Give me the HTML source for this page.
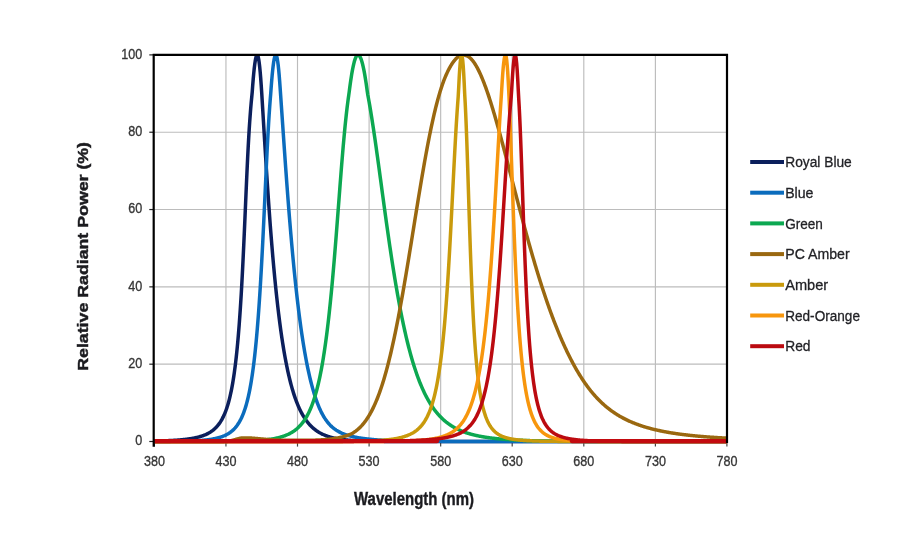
<!DOCTYPE html>
<html><head><meta charset="utf-8"><style>
html,body{margin:0;padding:0;background:#fff;}
svg{display:block;will-change:transform;}
.tk{font-family:"Liberation Sans",sans-serif;font-size:15.3px;fill:#363636;stroke:#363636;stroke-width:0.35;}
.yt{font-family:"Liberation Sans",sans-serif;font-size:15px;font-weight:bold;fill:#1b1b1f;stroke:#1b1b1f;stroke-width:0.45;}
.xt{font-family:"Liberation Sans",sans-serif;font-size:18px;font-weight:bold;fill:#1b1b1f;stroke:#1b1b1f;stroke-width:0.4;}
.lg{font-family:"Liberation Sans",sans-serif;font-size:15.5px;fill:#222226;stroke:#222226;stroke-width:0.3;}
</style></head><body>
<svg width="920" height="551" viewBox="0 0 920 551">
<defs><clipPath id="pc"><rect x="153.7" y="55.699999999999974" width="573.3" height="392.6"/></clipPath></defs>
<rect x="0" y="0" width="920" height="551" fill="#fff"/>
<line x1="225.95" y1="54.89999999999998" x2="225.95" y2="441.5" stroke="#bcbcbc" stroke-width="1.15"/>
<line x1="297.5" y1="54.89999999999998" x2="297.5" y2="441.5" stroke="#bcbcbc" stroke-width="1.15"/>
<line x1="369.1" y1="54.89999999999998" x2="369.1" y2="441.5" stroke="#bcbcbc" stroke-width="1.15"/>
<line x1="440.66" y1="54.89999999999998" x2="440.66" y2="441.5" stroke="#bcbcbc" stroke-width="1.15"/>
<line x1="512.2" y1="54.89999999999998" x2="512.2" y2="441.5" stroke="#bcbcbc" stroke-width="1.15"/>
<line x1="583.8" y1="54.89999999999998" x2="583.8" y2="441.5" stroke="#bcbcbc" stroke-width="1.15"/>
<line x1="655.4" y1="54.89999999999998" x2="655.4" y2="441.5" stroke="#bcbcbc" stroke-width="1.15"/>
<line x1="153.7" y1="364.18" x2="727.0" y2="364.18" stroke="#bcbcbc" stroke-width="1.15"/>
<line x1="153.7" y1="286.86" x2="727.0" y2="286.86" stroke="#bcbcbc" stroke-width="1.15"/>
<line x1="153.7" y1="209.54" x2="727.0" y2="209.54" stroke="#bcbcbc" stroke-width="1.15"/>
<line x1="153.7" y1="132.22" x2="727.0" y2="132.22" stroke="#bcbcbc" stroke-width="1.15"/>
<line x1="149.3" y1="441.50" x2="153.7" y2="441.50" stroke="#222" stroke-width="1.2"/>
<line x1="149.3" y1="364.18" x2="153.7" y2="364.18" stroke="#222" stroke-width="1.2"/>
<line x1="149.3" y1="286.86" x2="153.7" y2="286.86" stroke="#222" stroke-width="1.2"/>
<line x1="149.3" y1="209.54" x2="153.7" y2="209.54" stroke="#222" stroke-width="1.2"/>
<line x1="149.3" y1="132.22" x2="153.7" y2="132.22" stroke="#222" stroke-width="1.2"/>
<line x1="149.3" y1="54.90" x2="153.7" y2="54.90" stroke="#222" stroke-width="1.2"/>
<line x1="154.4" y1="441.5" x2="154.4" y2="446.6" stroke="#444" stroke-width="1.2"/>
<line x1="225.95" y1="441.5" x2="225.95" y2="446.6" stroke="#444" stroke-width="1.2"/>
<line x1="297.5" y1="441.5" x2="297.5" y2="446.6" stroke="#444" stroke-width="1.2"/>
<line x1="369.1" y1="441.5" x2="369.1" y2="446.6" stroke="#444" stroke-width="1.2"/>
<line x1="440.66" y1="441.5" x2="440.66" y2="446.6" stroke="#444" stroke-width="1.2"/>
<line x1="512.2" y1="441.5" x2="512.2" y2="446.6" stroke="#444" stroke-width="1.2"/>
<line x1="583.8" y1="441.5" x2="583.8" y2="446.6" stroke="#444" stroke-width="1.2"/>
<line x1="655.4" y1="441.5" x2="655.4" y2="446.6" stroke="#444" stroke-width="1.2"/>
<line x1="726.9" y1="441.5" x2="726.9" y2="446.6" stroke="#444" stroke-width="1.2"/>
<g clip-path="url(#pc)" fill="none" stroke-linejoin="round" stroke-linecap="round">
<path d="M153.7 441.09 L154.2 441.08 L154.7 441.07 L155.2 441.06 L155.7 441.05 L156.2 441.04 L156.7 441.02 L157.2 441.01 L157.7 441.00 L158.2 440.99 L158.7 440.97 L159.2 440.96 L159.7 440.95 L160.2 440.93 L160.7 440.92 L161.2 440.90 L161.7 440.89 L162.2 440.87 L162.7 440.85 L163.2 440.84 L163.7 440.82 L164.2 440.80 L164.7 440.78 L165.2 440.77 L165.7 440.75 L166.2 440.73 L166.7 440.71 L167.2 440.69 L167.7 440.66 L168.2 440.64 L168.7 440.62 L169.2 440.60 L169.7 440.57 L170.2 440.55 L170.7 440.52 L171.2 440.50 L171.7 440.47 L172.2 440.44 L172.7 440.41 L173.2 440.39 L173.7 440.36 L174.2 440.32 L174.7 440.29 L175.2 440.26 L175.7 440.23 L176.2 440.19 L176.7 440.16 L177.2 440.12 L177.7 440.08 L178.2 440.05 L178.7 440.01 L179.2 439.97 L179.7 439.92 L180.2 439.88 L180.7 439.84 L181.2 439.79 L181.7 439.75 L182.2 439.70 L182.7 439.65 L183.2 439.60 L183.7 439.54 L184.2 439.49 L184.7 439.43 L185.2 439.38 L185.7 439.32 L186.2 439.26 L186.7 439.19 L187.2 439.13 L187.7 439.06 L188.2 439.00 L188.7 438.93 L189.2 438.85 L189.7 438.78 L190.2 438.70 L190.7 438.62 L191.2 438.54 L191.7 438.46 L192.2 438.37 L192.7 438.28 L193.2 438.19 L193.7 438.10 L194.2 438.00 L194.7 437.90 L195.2 437.79 L195.7 437.69 L196.2 437.58 L196.7 437.46 L197.2 437.35 L197.7 437.23 L198.2 437.10 L198.7 436.97 L199.2 436.84 L199.7 436.70 L200.2 436.55 L200.7 436.40 L201.2 436.25 L201.7 436.09 L202.2 435.92 L202.7 435.75 L203.2 435.57 L203.7 435.38 L204.2 435.19 L204.7 434.99 L205.2 434.78 L205.7 434.57 L206.2 434.34 L206.7 434.11 L207.2 433.86 L207.7 433.61 L208.2 433.35 L208.7 433.08 L209.2 432.79 L209.7 432.50 L210.2 432.19 L210.7 431.87 L211.2 431.53 L211.7 431.18 L212.2 430.82 L212.7 430.44 L213.2 430.05 L213.7 429.63 L214.2 429.20 L214.7 428.75 L215.2 428.28 L215.7 427.79 L216.2 427.28 L216.7 426.74 L217.2 426.18 L217.7 425.59 L218.2 424.98 L218.7 424.33 L219.2 423.66 L219.7 422.95 L220.2 422.21 L220.7 421.43 L221.2 420.61 L221.7 419.75 L222.2 418.85 L222.7 417.90 L223.2 416.91 L223.7 415.86 L224.2 414.76 L224.7 413.60 L225.2 412.37 L225.7 411.09 L226.2 409.73 L226.7 408.30 L227.2 406.78 L227.7 405.19 L228.2 403.50 L228.7 401.72 L229.2 399.83 L229.7 397.84 L230.2 395.72 L230.7 393.49 L231.2 391.11 L231.7 388.60 L232.2 385.93 L232.7 383.10 L233.2 380.08 L233.7 376.88 L234.2 373.48 L234.7 369.86 L235.2 366.02 L235.7 361.91 L236.2 357.54 L236.7 352.88 L237.2 347.91 L237.7 342.62 L238.2 336.98 L238.7 330.97 L239.2 324.56 L239.7 317.73 L240.2 310.46 L240.7 302.73 L241.2 294.52 L241.7 285.82 L242.2 276.62 L242.7 266.93 L243.2 256.77 L243.7 246.17 L244.2 235.18 L244.7 223.88 L245.2 212.37 L245.7 200.79 L246.2 189.28 L246.7 178.00 L247.2 167.09 L247.7 156.69 L248.2 146.91 L248.7 137.81 L249.2 129.43 L249.7 121.76 L250.2 114.78 L250.7 108.44 L251.2 102.69 L251.7 97.47 L252.2 92.25 L252.7 85.45 L253.2 79.24 L253.7 73.68 L254.2 68.79 L254.7 64.60 L255.2 61.14 L255.7 58.44 L256.2 56.51 L256.7 55.50 L257.2 54.90 L257.7 55.57 L258.2 56.86 L258.7 59.31 L259.2 62.68 L259.7 67.00 L260.2 72.19 L260.7 78.24 L261.2 85.11 L261.7 92.72 L262.2 100.82 L262.7 109.04 L263.2 117.32 L263.7 125.61 L264.2 133.88 L264.7 142.09 L265.2 150.22 L265.7 158.26 L266.2 166.18 L266.7 173.97 L267.2 181.62 L267.7 189.12 L268.2 196.47 L268.7 203.66 L269.2 210.70 L269.7 217.57 L270.2 224.27 L270.7 230.81 L271.2 237.19 L271.7 243.40 L272.2 249.43 L272.7 255.32 L273.2 261.04 L273.7 266.61 L274.2 272.03 L274.7 277.30 L275.2 282.41 L275.7 287.39 L276.2 292.21 L276.7 296.88 L277.2 301.43 L277.7 305.84 L278.2 310.12 L278.7 314.27 L279.2 318.30 L279.7 322.21 L280.2 325.99 L280.7 329.66 L281.2 333.22 L281.7 336.66 L282.2 340.01 L282.7 343.25 L283.2 346.39 L283.7 349.44 L284.2 352.38 L284.7 355.23 L285.2 357.99 L285.7 360.67 L286.2 363.27 L286.7 365.78 L287.2 368.21 L287.7 370.57 L288.2 372.84 L288.7 375.05 L289.2 377.19 L289.7 379.26 L290.2 381.27 L290.7 383.21 L291.2 385.08 L291.7 386.90 L292.2 388.66 L292.7 390.36 L293.2 392.01 L293.7 393.61 L294.2 395.15 L294.7 396.64 L295.2 398.09 L295.7 399.49 L296.2 400.84 L296.7 402.16 L297.2 403.43 L297.7 404.65 L298.2 405.84 L298.7 406.99 L299.2 408.10 L299.7 409.18 L300.2 410.22 L300.7 411.23 L301.2 412.21 L301.7 413.15 L302.2 414.06 L302.7 414.95 L303.2 415.80 L303.7 416.63 L304.2 417.43 L304.7 418.21 L305.2 418.96 L305.7 419.68 L306.2 420.39 L306.7 421.07 L307.2 421.72 L307.7 422.36 L308.2 422.97 L308.7 423.57 L309.2 424.15 L309.7 424.70 L310.2 425.24 L310.7 425.77 L311.2 426.27 L311.7 426.76 L312.2 427.23 L312.7 427.69 L313.2 428.13 L313.7 428.56 L314.2 428.98 L314.7 429.38 L315.2 429.77 L315.7 430.14 L316.2 430.51 L316.7 430.86 L317.2 431.20 L317.7 431.53 L318.2 431.85 L318.7 432.16 L319.2 432.46 L319.7 432.74 L320.2 433.02 L320.7 433.30 L321.2 433.56 L321.7 433.81 L322.2 434.06 L322.7 434.29 L323.2 434.52 L323.7 434.75 L324.2 434.96 L324.7 435.17 L325.2 435.37 L325.7 435.57 L326.2 435.76 L326.7 435.94 L327.2 436.12 L327.7 436.29 L328.2 436.46 L328.7 436.62 L329.2 436.77 L329.7 436.92 L330.2 437.07 L330.7 437.21 L331.2 437.35 L331.7 437.48 L332.2 437.61 L332.7 437.74 L333.2 437.86 L333.7 437.97 L334.2 438.09 L334.7 438.20 L335.2 438.30 L335.7 438.40 L336.2 438.50 L336.7 438.60 L337.2 438.69 L337.7 438.78 L338.2 438.87 L338.7 438.96 L339.2 439.04 L339.7 439.12 L340.2 439.19 L340.7 439.27 L341.2 439.34 L341.7 439.41 L342.2 439.48 L342.7 439.54 L343.2 439.61 L343.7 439.67 L344.2 439.73 L344.7 439.78 L345.2 439.84 L345.7 439.89 L346.2 439.95 L346.7 440.00 L347.2 440.05 L347.7 440.09 L348.2 440.14 L348.7 440.18 L349.2 440.22 L349.7 440.27 L350.2 440.31 L350.7 440.35 L351.2 440.38 L351.7 440.42 L352.2 440.45 L352.7 440.49 L353.2 440.52 L353.7 440.55 L354.2 440.58 L354.7 440.61 L355.2 440.64 L355.7 440.67 L356.2 440.70 L356.7 440.72 L357.2 440.75 L357.7 440.77 L358.2 440.80 L358.7 440.82 L359.2 440.84 L359.7 440.86 L360.2 440.88 L360.7 440.90 L361.2 440.92 L361.7 440.94 L362.2 440.96 L362.7 440.98 L363.2 441.00 L363.7 441.01 L364.2 441.03 L364.7 441.04 L365.2 441.06 L365.7 441.07 L366.2 441.09 L366.7 441.10 L367.2 441.11 L367.7 441.13 L368.2 441.14 L368.7 441.15 L369.2 441.16 L369.7 441.17 L370.2 441.18 L370.7 441.19 L371.2 441.20 L371.7 441.21 L372.2 441.22 L372.7 441.23 L373.2 441.24 L373.7 441.25 L374.2 441.26 L374.7 441.27 L375.2 441.27 L375.7 441.28 L376.2 441.29 L376.7 441.30 L377.2 441.30 L377.7 441.31 L378.2 441.32 L378.7 441.32 L379.2 441.33 L379.7 441.33 L380.2 441.34 L380.7 441.34 L381.2 441.35 L381.7 441.35 L382.2 441.36 L382.7 441.36 L383.2 441.37 L383.7 441.37 L384.2 441.38 L384.7 441.38 L385.2 441.38 L385.7 441.39 L386.2 441.39 L386.7 441.40 L387.2 441.40 L387.7 441.40 L388.2 441.41 L388.7 441.41 L389.2 441.41 L389.7 441.41 L390.2 441.42 L390.7 441.42 L391.2 441.42 L391.7 441.43 L392.2 441.43 L392.7 441.43 L393.2 441.43 L393.7 441.43 L394.2 441.44 L394.7 441.44 L395.2 441.44 L395.7 441.44 L396.2 441.45 L396.7 441.45 L397.2 441.45 L397.7 441.45 L398.2 441.45 L398.7 441.45 L399.2 441.46 L399.7 441.46 L400.2 441.46 L400.7 441.46 L401.2 441.46 L401.7 441.50 L402.2 441.50 L402.7 441.50 L403.2 441.50 L403.7 441.50 L404.2 441.50 L404.7 441.50 L405.2 441.50 L405.7 441.50 L406.2 441.50 L406.7 441.50 L407.2 441.50 L407.7 441.50 L408.2 441.50 L408.7 441.50 L409.2 441.50 L409.7 441.50 L410.2 441.50 L410.7 441.50 L411.2 441.50 L411.7 441.50 L412.2 441.50 L412.7 441.50 L413.2 441.50 L413.7 441.50 L414.2 441.50 L414.7 441.50 L415.2 441.50 L415.7 441.50 L416.2 441.50 L416.7 441.50 L417.2 441.50 L417.7 441.50 L418.2 441.50 L418.7 441.50 L419.2 441.50 L419.7 441.50 L420.2 441.50 L420.7 441.50 L421.2 441.50 L421.7 441.50 L422.2 441.50 L422.7 441.50 L423.2 441.50 L423.7 441.50 L424.2 441.50 L424.7 441.50 L425.2 441.50 L425.7 441.50 L426.2 441.50 L426.7 441.50 L427.2 441.50 L427.7 441.50 L428.2 441.50 L428.7 441.50 L429.2 441.50 L429.7 441.50 L430.2 441.50 L430.7 441.50 L431.2 441.50 L431.7 441.50 L432.2 441.50 L432.7 441.50 L433.2 441.50 L433.7 441.50 L434.2 441.50 L434.7 441.50 L435.2 441.50 L435.7 441.50 L436.2 441.50 L436.7 441.50 L437.2 441.50 L437.7 441.50 L438.2 441.50 L438.7 441.50 L439.2 441.50 L439.7 441.50 L440.2 441.50 L440.7 441.50 L441.2 441.50 L441.7 441.50 L442.2 441.50 L442.7 441.50 L443.2 441.50 L443.7 441.50 L444.2 441.50 L444.7 441.50 L445.2 441.50 L445.7 441.50 L446.2 441.50 L446.7 441.50 L447.2 441.50 L447.7 441.50 L448.2 441.50 L448.7 441.50 L449.2 441.50 L449.7 441.50 L450.2 441.50 L450.7 441.50 L451.2 441.50 L451.7 441.50 L452.2 441.50 L452.7 441.50 L453.2 441.50 L453.7 441.50 L454.2 441.50 L454.7 441.50 L455.2 441.50 L455.7 441.50 L456.2 441.50 L456.7 441.50 L457.2 441.50 L457.7 441.50 L458.2 441.50 L458.7 441.50 L459.2 441.50 L459.7 441.50 L460.2 441.50 L460.7 441.50 L461.2 441.50 L461.7 441.50 L462.2 441.50 L462.7 441.50 L463.2 441.50 L463.7 441.50 L464.2 441.50 L464.7 441.50 L465.2 441.50 L465.7 441.50 L466.2 441.50 L466.7 441.50 L467.2 441.50 L467.7 441.50 L468.2 441.50 L468.7 441.50 L469.2 441.50 L469.7 441.50 L470.2 441.50 L470.7 441.50 L471.2 441.50 L471.7 441.50 L472.2 441.50 L472.7 441.50 L473.2 441.50 L473.7 441.50 L474.2 441.50 L474.7 441.50 L475.2 441.50 L475.7 441.50 L476.2 441.50 L476.7 441.50 L477.2 441.50 L477.7 441.50 L478.2 441.50 L478.7 441.50 L479.2 441.50 L479.7 441.50 L480.2 441.50 L480.7 441.50 L481.2 441.50 L481.7 441.50 L482.2 441.50 L482.7 441.50 L483.2 441.50 L483.7 441.50 L484.2 441.50 L484.7 441.50 L485.2 441.50 L485.7 441.50 L486.2 441.50 L486.7 441.50 L487.2 441.50 L487.7 441.50 L488.2 441.50 L488.7 441.50 L489.2 441.50 L489.7 441.50 L490.2 441.50 L490.7 441.50 L491.2 441.50 L491.7 441.50 L492.2 441.50 L492.7 441.50 L493.2 441.50 L493.7 441.50 L494.2 441.50 L494.7 441.50 L495.2 441.50 L495.7 441.50 L496.2 441.50 L496.7 441.50 L497.2 441.50 L497.7 441.50 L498.2 441.50 L498.7 441.50 L499.2 441.50 L499.7 441.50 L500.2 441.50 L500.7 441.50 L501.2 441.50 L501.7 441.50 L502.2 441.50 L502.7 441.50 L503.2 441.50 L503.7 441.50 L504.2 441.50 L504.7 441.50 L505.2 441.50 L505.7 441.50 L506.2 441.50 L506.7 441.50 L507.2 441.50 L507.7 441.50 L508.2 441.50 L508.7 441.50 L509.2 441.50 L509.7 441.50 L510.2 441.50 L510.7 441.50 L511.2 441.50 L511.7 441.50 L512.2 441.50 L512.7 441.50 L513.2 441.50 L513.7 441.50 L514.2 441.50 L514.7 441.50 L515.2 441.50 L515.7 441.50 L516.2 441.50 L516.7 441.50 L517.2 441.50 L517.7 441.50 L518.2 441.50 L518.7 441.50 L519.2 441.50 L519.7 441.50 L520.2 441.50 L520.7 441.50 L521.2 441.50 L521.7 441.50 L522.2 441.50 L522.7 441.50 L523.2 441.50 L523.7 441.50 L524.2 441.50 L524.7 441.50 L525.2 441.50 L525.7 441.50 L526.2 441.50 L526.7 441.50 L527.2 441.50 L527.7 441.50 L528.2 441.50 L528.7 441.50 L529.2 441.50 L529.7 441.50 L530.2 441.50 L530.7 441.50 L531.2 441.50 L531.7 441.50 L532.2 441.50 L532.7 441.50 L533.2 441.50 L533.7 441.50 L534.2 441.50 L534.7 441.50 L535.2 441.50 L535.7 441.50 L536.2 441.50 L536.7 441.50 L537.2 441.50 L537.7 441.50 L538.2 441.50 L538.7 441.50 L539.2 441.50 L539.7 441.50 L540.2 441.50 L540.7 441.50 L541.2 441.50 L541.7 441.50 L542.2 441.50 L542.7 441.50 L543.2 441.50 L543.7 441.50 L544.2 441.50 L544.7 441.50 L545.2 441.50 L545.7 441.50 L546.2 441.50 L546.7 441.50 L547.2 441.50 L547.7 441.50 L548.2 441.50 L548.7 441.50 L549.2 441.50 L549.7 441.50 L550.2 441.50 L550.7 441.50 L551.2 441.50 L551.7 441.50 L552.2 441.50 L552.7 441.50 L553.2 441.50 L553.7 441.50 L554.2 441.50 L554.7 441.50 L555.2 441.50 L555.7 441.50 L556.2 441.50 L556.7 441.50 L557.2 441.50 L557.7 441.50 L558.2 441.50 L558.7 441.50 L559.2 441.50 L559.7 441.50 L560.2 441.50 L560.7 441.50 L561.2 441.50 L561.7 441.50 L562.2 441.50 L562.7 441.50 L563.2 441.50 L563.7 441.50 L564.2 441.50 L564.7 441.50 L565.2 441.50 L565.7 441.50 L566.2 441.50 L566.7 441.50 L567.2 441.50 L567.7 441.50 L568.2 441.50 L568.7 441.50 L569.2 441.50 L569.7 441.50 L570.2 441.50 L570.7 441.50 L571.2 441.50 L571.7 441.50 L572.2 441.50 L572.7 441.50 L573.2 441.50 L573.7 441.50 L574.2 441.50 L574.7 441.50 L575.2 441.50 L575.7 441.50 L576.2 441.50 L576.7 441.50 L577.2 441.50 L577.7 441.50 L578.2 441.50 L578.7 441.50 L579.2 441.50 L579.7 441.50 L580.2 441.50 L580.7 441.50 L581.2 441.50 L581.7 441.50 L582.2 441.50 L582.7 441.50 L583.2 441.50 L583.7 441.50 L584.2 441.50 L584.7 441.50 L585.2 441.50 L585.7 441.50 L586.2 441.50 L586.7 441.50 L587.2 441.50 L587.7 441.50 L588.2 441.50 L588.7 441.50 L589.2 441.50 L589.7 441.50 L590.2 441.50 L590.7 441.50 L591.2 441.50 L591.7 441.50 L592.2 441.50 L592.7 441.50 L593.2 441.50 L593.7 441.50 L594.2 441.50 L594.7 441.50 L595.2 441.50 L595.7 441.50 L596.2 441.50 L596.7 441.50 L597.2 441.50 L597.7 441.50 L598.2 441.50 L598.7 441.50 L599.2 441.50 L599.7 441.50 L600.2 441.50 L600.7 441.50 L601.2 441.50 L601.7 441.50 L602.2 441.50 L602.7 441.50 L603.2 441.50 L603.7 441.50 L604.2 441.50 L604.7 441.50 L605.2 441.50 L605.7 441.50 L606.2 441.50 L606.7 441.50 L607.2 441.50 L607.7 441.50 L608.2 441.50 L608.7 441.50 L609.2 441.50 L609.7 441.50 L610.2 441.50 L610.7 441.50 L611.2 441.50 L611.7 441.50 L612.2 441.50 L612.7 441.50 L613.2 441.50 L613.7 441.50 L614.2 441.50 L614.7 441.50 L615.2 441.50 L615.7 441.50 L616.2 441.50 L616.7 441.50 L617.2 441.50 L617.7 441.50 L618.2 441.50 L618.7 441.50 L619.2 441.50 L619.7 441.50 L620.2 441.50 L620.7 441.50 L621.2 441.50 L621.7 441.50 L622.2 441.50 L622.7 441.50 L623.2 441.50 L623.7 441.50 L624.2 441.50 L624.7 441.50 L625.2 441.50 L625.7 441.50 L626.2 441.50 L626.7 441.50 L627.2 441.50 L627.7 441.50 L628.2 441.50 L628.7 441.50 L629.2 441.50 L629.7 441.50 L630.2 441.50 L630.7 441.50 L631.2 441.50 L631.7 441.50 L632.2 441.50 L632.7 441.50 L633.2 441.50 L633.7 441.50 L634.2 441.50 L634.7 441.50 L635.2 441.50 L635.7 441.50 L636.2 441.50 L636.7 441.50 L637.2 441.50 L637.7 441.50 L638.2 441.50 L638.7 441.50 L639.2 441.50 L639.7 441.50 L640.2 441.50 L640.7 441.50 L641.2 441.50 L641.7 441.50 L642.2 441.50 L642.7 441.50 L643.2 441.50 L643.7 441.50 L644.2 441.50 L644.7 441.50 L645.2 441.50 L645.7 441.50 L646.2 441.50 L646.7 441.50 L647.2 441.50 L647.7 441.50 L648.2 441.50 L648.7 441.50 L649.2 441.50 L649.7 441.50 L650.2 441.50 L650.7 441.50 L651.2 441.50 L651.7 441.50 L652.2 441.50 L652.7 441.50 L653.2 441.50 L653.7 441.50 L654.2 441.50 L654.7 441.50 L655.2 441.50 L655.7 441.50 L656.2 441.50 L656.7 441.50 L657.2 441.50 L657.7 441.50 L658.2 441.50 L658.7 441.50 L659.2 441.50 L659.7 441.50 L660.2 441.50 L660.7 441.50 L661.2 441.50 L661.7 441.50 L662.2 441.50 L662.7 441.50 L663.2 441.50 L663.7 441.50 L664.2 441.50 L664.7 441.50 L665.2 441.50 L665.7 441.50 L666.2 441.50 L666.7 441.50 L667.2 441.50 L667.7 441.50 L668.2 441.50 L668.7 441.50 L669.2 441.50 L669.7 441.50 L670.2 441.50 L670.7 441.50 L671.2 441.50 L671.7 441.50 L672.2 441.50 L672.7 441.50 L673.2 441.50 L673.7 441.50 L674.2 441.50 L674.7 441.50 L675.2 441.50 L675.7 441.50 L676.2 441.50 L676.7 441.50 L677.2 441.50 L677.7 441.50 L678.2 441.50 L678.7 441.50 L679.2 441.50 L679.7 441.50 L680.2 441.50 L680.7 441.50 L681.2 441.50 L681.7 441.50 L682.2 441.50 L682.7 441.50 L683.2 441.50 L683.7 441.50 L684.2 441.50 L684.7 441.50 L685.2 441.50 L685.7 441.50 L686.2 441.50 L686.7 441.50 L687.2 441.50 L687.7 441.50 L688.2 441.50 L688.7 441.50 L689.2 441.50 L689.7 441.50 L690.2 441.50 L690.7 441.50 L691.2 441.50 L691.7 441.50 L692.2 441.50 L692.7 441.50 L693.2 441.50 L693.7 441.50 L694.2 441.50 L694.7 441.50 L695.2 441.50 L695.7 441.50 L696.2 441.50 L696.7 441.50 L697.2 441.50 L697.7 441.50 L698.2 441.50 L698.7 441.50 L699.2 441.50 L699.7 441.50 L700.2 441.50 L700.7 441.50 L701.2 441.50 L701.7 441.50 L702.2 441.50 L702.7 441.50 L703.2 441.50 L703.7 441.50 L704.2 441.50 L704.7 441.50 L705.2 441.50 L705.7 441.50 L706.2 441.50 L706.7 441.50 L707.2 441.50 L707.7 441.50 L708.2 441.50 L708.7 441.50 L709.2 441.50 L709.7 441.50 L710.2 441.50 L710.7 441.50 L711.2 441.50 L711.7 441.50 L712.2 441.50 L712.7 441.50 L713.2 441.50 L713.7 441.50 L714.2 441.50 L714.7 441.50 L715.2 441.50 L715.7 441.50 L716.2 441.50 L716.7 441.50 L717.2 441.50 L717.7 441.50 L718.2 441.50 L718.7 441.50 L719.2 441.50 L719.7 441.50 L720.2 441.50 L720.7 441.50 L721.2 441.50 L721.7 441.50 L722.2 441.50 L722.7 441.50 L723.2 441.50 L723.7 441.50 L724.2 441.50 L724.7 441.50 L725.2 441.50 L725.7 441.50 L726.2 441.50 L726.7 441.50" stroke="#0b1f5c" stroke-width="3.5"/>
<path d="M153.7 441.46 L154.2 441.46 L154.7 441.46 L155.2 441.46 L155.7 441.45 L156.2 441.45 L156.7 441.45 L157.2 441.45 L157.7 441.45 L158.2 441.45 L158.7 441.44 L159.2 441.44 L159.7 441.44 L160.2 441.44 L160.7 441.44 L161.2 441.43 L161.7 441.43 L162.2 441.43 L162.7 441.43 L163.2 441.42 L163.7 441.42 L164.2 441.42 L164.7 441.42 L165.2 441.41 L165.7 441.41 L166.2 441.41 L166.7 441.40 L167.2 441.40 L167.7 441.40 L168.2 441.39 L168.7 441.39 L169.2 441.38 L169.7 441.38 L170.2 441.38 L170.7 441.37 L171.2 441.37 L171.7 441.36 L172.2 441.36 L172.7 441.35 L173.2 441.35 L173.7 441.34 L174.2 441.34 L174.7 441.33 L175.2 441.33 L175.7 441.32 L176.2 441.31 L176.7 441.31 L177.2 441.30 L177.7 441.29 L178.2 441.29 L178.7 441.28 L179.2 441.27 L179.7 441.26 L180.2 441.25 L180.7 441.24 L181.2 441.24 L181.7 441.23 L182.2 441.22 L182.7 441.21 L183.2 441.20 L183.7 441.18 L184.2 441.17 L184.7 441.16 L185.2 441.15 L185.7 441.14 L186.2 441.12 L186.7 441.11 L187.2 441.10 L187.7 441.08 L188.2 441.07 L188.7 441.05 L189.2 441.04 L189.7 441.02 L190.2 441.00 L190.7 440.99 L191.2 440.97 L191.7 440.95 L192.2 440.93 L192.7 440.91 L193.2 440.89 L193.7 440.86 L194.2 440.84 L194.7 440.82 L195.2 440.79 L195.7 440.77 L196.2 440.74 L196.7 440.71 L197.2 440.69 L197.7 440.66 L198.2 440.63 L198.7 440.59 L199.2 440.56 L199.7 440.53 L200.2 440.49 L200.7 440.46 L201.2 440.42 L201.7 440.38 L202.2 440.34 L202.7 440.30 L203.2 440.25 L203.7 440.21 L204.2 440.16 L204.7 440.11 L205.2 440.06 L205.7 440.01 L206.2 439.95 L206.7 439.90 L207.2 439.84 L207.7 439.78 L208.2 439.71 L208.7 439.65 L209.2 439.58 L209.7 439.51 L210.2 439.44 L210.7 439.36 L211.2 439.28 L211.7 439.20 L212.2 439.11 L212.7 439.03 L213.2 438.94 L213.7 438.84 L214.2 438.74 L214.7 438.64 L215.2 438.53 L215.7 438.42 L216.2 438.31 L216.7 438.19 L217.2 438.07 L217.7 437.94 L218.2 437.81 L218.7 437.67 L219.2 437.53 L219.7 437.38 L220.2 437.23 L220.7 437.07 L221.2 436.90 L221.7 436.73 L222.2 436.55 L222.7 436.37 L223.2 436.17 L223.7 435.97 L224.2 435.76 L224.7 435.55 L225.2 435.32 L225.7 435.08 L226.2 434.83 L226.7 434.57 L227.2 434.30 L227.7 434.02 L228.2 433.72 L228.7 433.41 L229.2 433.09 L229.7 432.75 L230.2 432.40 L230.7 432.03 L231.2 431.64 L231.7 431.24 L232.2 430.82 L232.7 430.37 L233.2 429.91 L233.7 429.42 L234.2 428.92 L234.7 428.38 L235.2 427.82 L235.7 427.23 L236.2 426.62 L236.7 425.97 L237.2 425.30 L237.7 424.58 L238.2 423.84 L238.7 423.05 L239.2 422.23 L239.7 421.36 L240.2 420.45 L240.7 419.49 L241.2 418.48 L241.7 417.42 L242.2 416.30 L242.7 415.13 L243.2 413.89 L243.7 412.58 L244.2 411.21 L244.7 409.76 L245.2 408.23 L245.7 406.62 L246.2 404.92 L246.7 403.13 L247.2 401.23 L247.7 399.23 L248.2 397.12 L248.7 394.90 L249.2 392.54 L249.7 390.04 L250.2 387.41 L250.7 384.63 L251.2 381.69 L251.7 378.57 L252.2 375.28 L252.7 371.80 L253.2 368.12 L253.7 364.21 L254.2 360.09 L254.7 355.72 L255.2 351.10 L255.7 346.22 L256.2 341.06 L256.7 335.60 L257.2 329.83 L257.7 323.74 L258.2 317.31 L258.7 310.54 L259.2 303.40 L259.7 295.90 L260.2 288.02 L260.7 279.75 L261.2 271.11 L261.7 262.09 L262.2 252.72 L262.7 243.01 L263.2 232.98 L263.7 222.68 L264.2 212.17 L264.7 201.51 L265.2 190.77 L265.7 180.06 L266.2 169.46 L266.7 159.08 L267.2 149.03 L267.7 139.40 L268.2 130.29 L268.7 121.74 L269.2 113.81 L269.7 106.53 L270.2 99.88 L270.7 93.86 L271.2 86.97 L271.7 80.60 L272.2 74.87 L272.7 69.81 L273.2 65.45 L273.7 61.82 L274.2 58.94 L274.7 56.81 L275.2 55.63 L275.7 54.97 L276.2 55.41 L276.7 56.42 L277.2 58.49 L277.7 61.46 L278.2 65.31 L278.7 70.01 L279.2 75.51 L279.7 81.79 L280.2 88.79 L280.7 96.17 L281.2 103.31 L281.7 110.53 L282.2 117.79 L282.7 125.07 L283.2 132.34 L283.7 139.59 L284.2 146.79 L284.7 153.94 L285.2 161.02 L285.7 168.02 L286.2 174.94 L286.7 181.76 L287.2 188.48 L287.7 195.10 L288.2 201.60 L288.7 208.00 L289.2 214.28 L289.7 220.44 L290.2 226.48 L290.7 232.41 L291.2 238.21 L291.7 243.89 L292.2 249.44 L292.7 254.88 L293.2 260.19 L293.7 265.39 L294.2 270.47 L294.7 275.42 L295.2 280.26 L295.7 284.99 L296.2 289.60 L296.7 294.09 L297.2 298.48 L297.7 302.75 L298.2 306.91 L298.7 310.97 L299.2 314.92 L299.7 318.77 L300.2 322.52 L300.7 326.16 L301.2 329.71 L301.7 333.16 L302.2 336.51 L302.7 339.78 L303.2 342.96 L303.7 346.04 L304.2 349.05 L304.7 351.97 L305.2 354.80 L305.7 357.54 L306.2 360.22 L306.7 362.81 L307.2 365.34 L307.7 367.79 L308.2 370.16 L308.7 372.47 L309.2 374.70 L309.7 376.87 L310.2 378.98 L310.7 381.03 L311.2 383.01 L311.7 384.93 L312.2 386.79 L312.7 388.60 L313.2 390.35 L313.7 392.05 L314.2 393.70 L314.7 395.29 L315.2 396.84 L315.7 398.33 L316.2 399.78 L316.7 401.19 L317.2 402.55 L317.7 403.86 L318.2 405.14 L318.7 406.37 L319.2 407.56 L319.7 408.70 L320.2 409.81 L320.7 410.88 L321.2 411.91 L321.7 412.90 L322.2 413.86 L322.7 414.78 L323.2 415.67 L323.7 416.53 L324.2 417.35 L324.7 418.15 L325.2 418.91 L325.7 419.64 L326.2 420.35 L326.7 421.04 L327.2 421.69 L327.7 422.32 L328.2 422.93 L328.7 423.52 L329.2 424.08 L329.7 424.62 L330.2 425.15 L330.7 425.65 L331.2 426.13 L331.7 426.60 L332.2 427.05 L332.7 427.48 L333.2 427.90 L333.7 428.30 L334.2 428.69 L334.7 429.06 L335.2 429.42 L335.7 429.77 L336.2 430.11 L336.7 430.43 L337.2 430.74 L337.7 431.04 L338.2 431.33 L338.7 431.61 L339.2 431.88 L339.7 432.14 L340.2 432.40 L340.7 432.64 L341.2 432.88 L341.7 433.10 L342.2 433.33 L342.7 433.54 L343.2 433.74 L343.7 433.94 L344.2 434.14 L344.7 434.32 L345.2 434.50 L345.7 434.68 L346.2 434.85 L346.7 435.01 L347.2 435.17 L347.7 435.32 L348.2 435.47 L348.7 435.62 L349.2 435.76 L349.7 435.89 L350.2 436.03 L350.7 436.15 L351.2 436.28 L351.7 436.40 L352.2 436.51 L352.7 436.63 L353.2 436.74 L353.7 436.84 L354.2 436.95 L354.7 437.05 L355.2 437.15 L355.7 437.25 L356.2 437.34 L356.7 437.43 L357.2 437.52 L357.7 437.61 L358.2 437.70 L358.7 437.78 L359.2 437.86 L359.7 437.94 L360.2 438.02 L360.7 438.10 L361.2 438.17 L361.7 438.25 L362.2 438.32 L362.7 438.39 L363.2 438.45 L363.7 438.52 L364.2 438.59 L364.7 438.65 L365.2 438.71 L365.7 438.77 L366.2 438.83 L366.7 438.89 L367.2 438.95 L367.7 439.00 L368.2 439.05 L368.7 439.11 L369.2 439.16 L369.7 439.21 L370.2 439.26 L370.7 439.31 L371.2 439.35 L371.7 439.40 L372.2 439.45 L372.7 439.49 L373.2 439.53 L373.7 439.57 L374.2 439.62 L374.7 439.66 L375.2 439.69 L375.7 439.73 L376.2 439.77 L376.7 439.81 L377.2 439.84 L377.7 439.88 L378.2 439.91 L378.7 439.95 L379.2 439.98 L379.7 440.01 L380.2 440.04 L380.7 440.07 L381.2 440.10 L381.7 440.13 L382.2 440.16 L382.7 440.19 L383.2 440.22 L383.7 440.24 L384.2 440.27 L384.7 440.30 L385.2 440.32 L385.7 440.35 L386.2 440.37 L386.7 440.39 L387.2 440.42 L387.7 440.44 L388.2 440.46 L388.7 440.48 L389.2 440.50 L389.7 440.52 L390.2 440.54 L390.7 440.56 L391.2 440.58 L391.7 440.60 L392.2 440.62 L392.7 440.64 L393.2 440.66 L393.7 440.67 L394.2 440.69 L394.7 440.71 L395.2 440.72 L395.7 440.74 L396.2 440.76 L396.7 440.77 L397.2 440.79 L397.7 440.80 L398.2 440.81 L398.7 440.83 L399.2 440.84 L399.7 440.86 L400.2 440.87 L400.7 440.88 L401.2 440.89 L401.7 440.91 L402.2 440.92 L402.7 440.93 L403.2 440.94 L403.7 440.95 L404.2 440.96 L404.7 440.98 L405.2 440.99 L405.7 441.00 L406.2 441.01 L406.7 441.02 L407.2 441.03 L407.7 441.04 L408.2 441.04 L408.7 441.05 L409.2 441.06 L409.7 441.07 L410.2 441.08 L410.7 441.09 L411.2 441.10 L411.7 441.10 L412.2 441.11 L412.7 441.12 L413.2 441.13 L413.7 441.14 L414.2 441.14 L414.7 441.15 L415.2 441.16 L415.7 441.16 L416.2 441.17 L416.7 441.18 L417.2 441.18 L417.7 441.19 L418.2 441.20 L418.7 441.20 L419.2 441.21 L419.7 441.21 L420.2 441.22 L420.7 441.22 L421.2 441.23 L421.7 441.24 L422.2 441.24 L422.7 441.25 L423.2 441.25 L423.7 441.26 L424.2 441.26 L424.7 441.27 L425.2 441.27 L425.7 441.27 L426.2 441.28 L426.7 441.28 L427.2 441.29 L427.7 441.29 L428.2 441.30 L428.7 441.30 L429.2 441.30 L429.7 441.31 L430.2 441.31 L430.7 441.31 L431.2 441.32 L431.7 441.32 L432.2 441.33 L432.7 441.33 L433.2 441.33 L433.7 441.34 L434.2 441.34 L434.7 441.34 L435.2 441.34 L435.7 441.35 L436.2 441.35 L436.7 441.35 L437.2 441.36 L437.7 441.36 L438.2 441.36 L438.7 441.36 L439.2 441.37 L439.7 441.37 L440.2 441.37 L440.7 441.37 L441.2 441.38 L441.7 441.38 L442.2 441.38 L442.7 441.38 L443.2 441.39 L443.7 441.39 L444.2 441.39 L444.7 441.39 L445.2 441.39 L445.7 441.40 L446.2 441.40 L446.7 441.40 L447.2 441.40 L447.7 441.40 L448.2 441.41 L448.7 441.41 L449.2 441.41 L449.7 441.41 L450.2 441.41 L450.7 441.41 L451.2 441.42 L451.7 441.42 L452.2 441.42 L452.7 441.42 L453.2 441.42 L453.7 441.42 L454.2 441.43 L454.7 441.43 L455.2 441.43 L455.7 441.43 L456.2 441.43 L456.7 441.43 L457.2 441.43 L457.7 441.43 L458.2 441.44 L458.7 441.44 L459.2 441.44 L459.7 441.44 L460.2 441.44 L460.7 441.44 L461.2 441.44 L461.7 441.44 L462.2 441.45 L462.7 441.45 L463.2 441.45 L463.7 441.45 L464.2 441.45 L464.7 441.45 L465.2 441.45 L465.7 441.45 L466.2 441.45 L466.7 441.45 L467.2 441.45 L467.7 441.46 L468.2 441.46 L468.7 441.46 L469.2 441.46 L469.7 441.46 L470.2 441.46 L470.7 441.46 L471.2 441.46 L471.7 441.50 L472.2 441.50 L472.7 441.50 L473.2 441.50 L473.7 441.50 L474.2 441.50 L474.7 441.50 L475.2 441.50 L475.7 441.50 L476.2 441.50 L476.7 441.50 L477.2 441.50 L477.7 441.50 L478.2 441.50 L478.7 441.50 L479.2 441.50 L479.7 441.50 L480.2 441.50 L480.7 441.50 L481.2 441.50 L481.7 441.50 L482.2 441.50 L482.7 441.50 L483.2 441.50 L483.7 441.50 L484.2 441.50 L484.7 441.50 L485.2 441.50 L485.7 441.50 L486.2 441.50 L486.7 441.50 L487.2 441.50 L487.7 441.50 L488.2 441.50 L488.7 441.50 L489.2 441.50 L489.7 441.50 L490.2 441.50 L490.7 441.50 L491.2 441.50 L491.7 441.50 L492.2 441.50 L492.7 441.50 L493.2 441.50 L493.7 441.50 L494.2 441.50 L494.7 441.50 L495.2 441.50 L495.7 441.50 L496.2 441.50 L496.7 441.50 L497.2 441.50 L497.7 441.50 L498.2 441.50 L498.7 441.50 L499.2 441.50 L499.7 441.50 L500.2 441.50 L500.7 441.50 L501.2 441.50 L501.7 441.50 L502.2 441.50 L502.7 441.50 L503.2 441.50 L503.7 441.50 L504.2 441.50 L504.7 441.50 L505.2 441.50 L505.7 441.50 L506.2 441.50 L506.7 441.50 L507.2 441.50 L507.7 441.50 L508.2 441.50 L508.7 441.50 L509.2 441.50 L509.7 441.50 L510.2 441.50 L510.7 441.50 L511.2 441.50 L511.7 441.50 L512.2 441.50 L512.7 441.50 L513.2 441.50 L513.7 441.50 L514.2 441.50 L514.7 441.50 L515.2 441.50 L515.7 441.50 L516.2 441.50 L516.7 441.50 L517.2 441.50 L517.7 441.50 L518.2 441.50 L518.7 441.50 L519.2 441.50 L519.7 441.50 L520.2 441.50 L520.7 441.50 L521.2 441.50 L521.7 441.50 L522.2 441.50 L522.7 441.50 L523.2 441.50 L523.7 441.50 L524.2 441.50 L524.7 441.50 L525.2 441.50 L525.7 441.50 L526.2 441.50 L526.7 441.50 L527.2 441.50 L527.7 441.50 L528.2 441.50 L528.7 441.50 L529.2 441.50 L529.7 441.50 L530.2 441.50 L530.7 441.50 L531.2 441.50 L531.7 441.50 L532.2 441.50 L532.7 441.50 L533.2 441.50 L533.7 441.50 L534.2 441.50 L534.7 441.50 L535.2 441.50 L535.7 441.50 L536.2 441.50 L536.7 441.50 L537.2 441.50 L537.7 441.50 L538.2 441.50 L538.7 441.50 L539.2 441.50 L539.7 441.50 L540.2 441.50 L540.7 441.50 L541.2 441.50 L541.7 441.50 L542.2 441.50 L542.7 441.50 L543.2 441.50 L543.7 441.50 L544.2 441.50 L544.7 441.50 L545.2 441.50 L545.7 441.50 L546.2 441.50 L546.7 441.50 L547.2 441.50 L547.7 441.50 L548.2 441.50 L548.7 441.50 L549.2 441.50 L549.7 441.50 L550.2 441.50 L550.7 441.50 L551.2 441.50 L551.7 441.50 L552.2 441.50 L552.7 441.50 L553.2 441.50 L553.7 441.50 L554.2 441.50 L554.7 441.50 L555.2 441.50 L555.7 441.50 L556.2 441.50 L556.7 441.50 L557.2 441.50 L557.7 441.50 L558.2 441.50 L558.7 441.50 L559.2 441.50 L559.7 441.50 L560.2 441.50 L560.7 441.50 L561.2 441.50 L561.7 441.50 L562.2 441.50 L562.7 441.50 L563.2 441.50 L563.7 441.50 L564.2 441.50 L564.7 441.50 L565.2 441.50 L565.7 441.50 L566.2 441.50 L566.7 441.50 L567.2 441.50 L567.7 441.50 L568.2 441.50 L568.7 441.50 L569.2 441.50 L569.7 441.50 L570.2 441.50 L570.7 441.50 L571.2 441.50 L571.7 441.50 L572.2 441.50 L572.7 441.50 L573.2 441.50 L573.7 441.50 L574.2 441.50 L574.7 441.50 L575.2 441.50 L575.7 441.50 L576.2 441.50 L576.7 441.50 L577.2 441.50 L577.7 441.50 L578.2 441.50 L578.7 441.50 L579.2 441.50 L579.7 441.50 L580.2 441.50 L580.7 441.50 L581.2 441.50 L581.7 441.50 L582.2 441.50 L582.7 441.50 L583.2 441.50 L583.7 441.50 L584.2 441.50 L584.7 441.50 L585.2 441.50 L585.7 441.50 L586.2 441.50 L586.7 441.50 L587.2 441.50 L587.7 441.50 L588.2 441.50 L588.7 441.50 L589.2 441.50 L589.7 441.50 L590.2 441.50 L590.7 441.50 L591.2 441.50 L591.7 441.50 L592.2 441.50 L592.7 441.50 L593.2 441.50 L593.7 441.50 L594.2 441.50 L594.7 441.50 L595.2 441.50 L595.7 441.50 L596.2 441.50 L596.7 441.50 L597.2 441.50 L597.7 441.50 L598.2 441.50 L598.7 441.50 L599.2 441.50 L599.7 441.50 L600.2 441.50 L600.7 441.50 L601.2 441.50 L601.7 441.50 L602.2 441.50 L602.7 441.50 L603.2 441.50 L603.7 441.50 L604.2 441.50 L604.7 441.50 L605.2 441.50 L605.7 441.50 L606.2 441.50 L606.7 441.50 L607.2 441.50 L607.7 441.50 L608.2 441.50 L608.7 441.50 L609.2 441.50 L609.7 441.50 L610.2 441.50 L610.7 441.50 L611.2 441.50 L611.7 441.50 L612.2 441.50 L612.7 441.50 L613.2 441.50 L613.7 441.50 L614.2 441.50 L614.7 441.50 L615.2 441.50 L615.7 441.50 L616.2 441.50 L616.7 441.50 L617.2 441.50 L617.7 441.50 L618.2 441.50 L618.7 441.50 L619.2 441.50 L619.7 441.50 L620.2 441.50 L620.7 441.50 L621.2 441.50 L621.7 441.50 L622.2 441.50 L622.7 441.50 L623.2 441.50 L623.7 441.50 L624.2 441.50 L624.7 441.50 L625.2 441.50 L625.7 441.50 L626.2 441.50 L626.7 441.50 L627.2 441.50 L627.7 441.50 L628.2 441.50 L628.7 441.50 L629.2 441.50 L629.7 441.50 L630.2 441.50 L630.7 441.50 L631.2 441.50 L631.7 441.50 L632.2 441.50 L632.7 441.50 L633.2 441.50 L633.7 441.50 L634.2 441.50 L634.7 441.50 L635.2 441.50 L635.7 441.50 L636.2 441.50 L636.7 441.50 L637.2 441.50 L637.7 441.50 L638.2 441.50 L638.7 441.50 L639.2 441.50 L639.7 441.50 L640.2 441.50 L640.7 441.50 L641.2 441.50 L641.7 441.50 L642.2 441.50 L642.7 441.50 L643.2 441.50 L643.7 441.50 L644.2 441.50 L644.7 441.50 L645.2 441.50 L645.7 441.50 L646.2 441.50 L646.7 441.50 L647.2 441.50 L647.7 441.50 L648.2 441.50 L648.7 441.50 L649.2 441.50 L649.7 441.50 L650.2 441.50 L650.7 441.50 L651.2 441.50 L651.7 441.50 L652.2 441.50 L652.7 441.50 L653.2 441.50 L653.7 441.50 L654.2 441.50 L654.7 441.50 L655.2 441.50 L655.7 441.50 L656.2 441.50 L656.7 441.50 L657.2 441.50 L657.7 441.50 L658.2 441.50 L658.7 441.50 L659.2 441.50 L659.7 441.50 L660.2 441.50 L660.7 441.50 L661.2 441.50 L661.7 441.50 L662.2 441.50 L662.7 441.50 L663.2 441.50 L663.7 441.50 L664.2 441.50 L664.7 441.50 L665.2 441.50 L665.7 441.50 L666.2 441.50 L666.7 441.50 L667.2 441.50 L667.7 441.50 L668.2 441.50 L668.7 441.50 L669.2 441.50 L669.7 441.50 L670.2 441.50 L670.7 441.50 L671.2 441.50 L671.7 441.50 L672.2 441.50 L672.7 441.50 L673.2 441.50 L673.7 441.50 L674.2 441.50 L674.7 441.50 L675.2 441.50 L675.7 441.50 L676.2 441.50 L676.7 441.50 L677.2 441.50 L677.7 441.50 L678.2 441.50 L678.7 441.50 L679.2 441.50 L679.7 441.50 L680.2 441.50 L680.7 441.50 L681.2 441.50 L681.7 441.50 L682.2 441.50 L682.7 441.50 L683.2 441.50 L683.7 441.50 L684.2 441.50 L684.7 441.50 L685.2 441.50 L685.7 441.50 L686.2 441.50 L686.7 441.50 L687.2 441.50 L687.7 441.50 L688.2 441.50 L688.7 441.50 L689.2 441.50 L689.7 441.50 L690.2 441.50 L690.7 441.50 L691.2 441.50 L691.7 441.50 L692.2 441.50 L692.7 441.50 L693.2 441.50 L693.7 441.50 L694.2 441.50 L694.7 441.50 L695.2 441.50 L695.7 441.50 L696.2 441.50 L696.7 441.50 L697.2 441.50 L697.7 441.50 L698.2 441.50 L698.7 441.50 L699.2 441.50 L699.7 441.50 L700.2 441.50 L700.7 441.50 L701.2 441.50 L701.7 441.50 L702.2 441.50 L702.7 441.50 L703.2 441.50 L703.7 441.50 L704.2 441.50 L704.7 441.50 L705.2 441.50 L705.7 441.50 L706.2 441.50 L706.7 441.50 L707.2 441.50 L707.7 441.50 L708.2 441.50 L708.7 441.50 L709.2 441.50 L709.7 441.50 L710.2 441.50 L710.7 441.50 L711.2 441.50 L711.7 441.50 L712.2 441.50 L712.7 441.50 L713.2 441.50 L713.7 441.50 L714.2 441.50 L714.7 441.50 L715.2 441.50 L715.7 441.50 L716.2 441.50 L716.7 441.50 L717.2 441.50 L717.7 441.50 L718.2 441.50 L718.7 441.50 L719.2 441.50 L719.7 441.50 L720.2 441.50 L720.7 441.50 L721.2 441.50 L721.7 441.50 L722.2 441.50 L722.7 441.50 L723.2 441.50 L723.7 441.50 L724.2 441.50 L724.7 441.50 L725.2 441.50 L725.7 441.50 L726.2 441.50 L726.7 441.50" stroke="#0b6cbd" stroke-width="3.5"/>
<path d="M153.7 441.50 L154.2 441.50 L154.7 441.50 L155.2 441.50 L155.7 441.50 L156.2 441.50 L156.7 441.50 L157.2 441.50 L157.7 441.50 L158.2 441.50 L158.7 441.50 L159.2 441.50 L159.7 441.50 L160.2 441.50 L160.7 441.50 L161.2 441.50 L161.7 441.50 L162.2 441.50 L162.7 441.50 L163.2 441.50 L163.7 441.50 L164.2 441.50 L164.7 441.50 L165.2 441.50 L165.7 441.50 L166.2 441.50 L166.7 441.50 L167.2 441.50 L167.7 441.50 L168.2 441.50 L168.7 441.50 L169.2 441.50 L169.7 441.50 L170.2 441.50 L170.7 441.50 L171.2 441.50 L171.7 441.50 L172.2 441.50 L172.7 441.50 L173.2 441.50 L173.7 441.50 L174.2 441.50 L174.7 441.50 L175.2 441.50 L175.7 441.50 L176.2 441.50 L176.7 441.50 L177.2 441.50 L177.7 441.50 L178.2 441.50 L178.7 441.50 L179.2 441.50 L179.7 441.50 L180.2 441.50 L180.7 441.50 L181.2 441.50 L181.7 441.50 L182.2 441.50 L182.7 441.50 L183.2 441.50 L183.7 441.50 L184.2 441.50 L184.7 441.50 L185.2 441.50 L185.7 441.50 L186.2 441.50 L186.7 441.50 L187.2 441.50 L187.7 441.50 L188.2 441.50 L188.7 441.50 L189.2 441.50 L189.7 441.50 L190.2 441.50 L190.7 441.50 L191.2 441.50 L191.7 441.50 L192.2 441.50 L192.7 441.50 L193.2 441.50 L193.7 441.50 L194.2 441.50 L194.7 441.50 L195.2 441.50 L195.7 441.50 L196.2 441.50 L196.7 441.50 L197.2 441.50 L197.7 441.50 L198.2 441.50 L198.7 441.50 L199.2 441.50 L199.7 441.50 L200.2 441.50 L200.7 441.50 L201.2 441.50 L201.7 441.50 L202.2 441.50 L202.7 441.50 L203.2 441.50 L203.7 441.50 L204.2 441.50 L204.7 441.50 L205.2 441.50 L205.7 441.50 L206.2 441.50 L206.7 441.50 L207.2 441.50 L207.7 441.50 L208.2 441.50 L208.7 441.50 L209.2 441.50 L209.7 441.50 L210.2 441.50 L210.7 441.50 L211.2 441.46 L211.7 441.46 L212.2 441.46 L212.7 441.46 L213.2 441.46 L213.7 441.45 L214.2 441.45 L214.7 441.45 L215.2 441.45 L215.7 441.45 L216.2 441.44 L216.7 441.44 L217.2 441.44 L217.7 441.44 L218.2 441.44 L218.7 441.43 L219.2 441.43 L219.7 441.43 L220.2 441.43 L220.7 441.42 L221.2 441.42 L221.7 441.42 L222.2 441.42 L222.7 441.41 L223.2 441.41 L223.7 441.41 L224.2 441.40 L224.7 441.40 L225.2 441.40 L225.7 441.39 L226.2 441.39 L226.7 441.38 L227.2 441.38 L227.7 441.38 L228.2 441.37 L228.7 441.37 L229.2 441.36 L229.7 441.36 L230.2 441.35 L230.7 441.35 L231.2 441.34 L231.7 441.34 L232.2 441.33 L232.7 441.32 L233.2 441.32 L233.7 441.31 L234.2 441.31 L234.7 441.30 L235.2 441.29 L235.7 441.28 L236.2 441.28 L236.7 441.27 L237.2 441.26 L237.7 441.25 L238.2 441.24 L238.7 441.23 L239.2 441.22 L239.7 441.22 L240.2 441.21 L240.7 441.20 L241.2 441.18 L241.7 441.17 L242.2 441.16 L242.7 441.15 L243.2 441.14 L243.7 441.13 L244.2 441.11 L244.7 441.10 L245.2 441.09 L245.7 441.07 L246.2 441.06 L246.7 441.04 L247.2 441.02 L247.7 441.01 L248.2 440.99 L248.7 440.97 L249.2 440.96 L249.7 440.94 L250.2 440.92 L250.7 440.90 L251.2 440.88 L251.7 440.85 L252.2 440.83 L252.7 440.81 L253.2 440.79 L253.7 440.76 L254.2 440.74 L254.7 440.71 L255.2 440.68 L255.7 440.65 L256.2 440.62 L256.7 440.59 L257.2 440.56 L257.7 440.53 L258.2 440.50 L258.7 440.46 L259.2 440.43 L259.7 440.39 L260.2 440.35 L260.7 440.32 L261.2 440.28 L261.7 440.23 L262.2 440.19 L262.7 440.15 L263.2 440.10 L263.7 440.05 L264.2 440.00 L264.7 439.95 L265.2 439.90 L265.7 439.85 L266.2 439.79 L266.7 439.73 L267.2 439.67 L267.7 439.61 L268.2 439.55 L268.7 439.48 L269.2 439.41 L269.7 439.34 L270.2 439.27 L270.7 439.20 L271.2 439.12 L271.7 439.04 L272.2 438.96 L272.7 438.87 L273.2 438.78 L273.7 438.69 L274.2 438.60 L274.7 438.50 L275.2 438.40 L275.7 438.30 L276.2 438.19 L276.7 438.08 L277.2 437.97 L277.7 437.85 L278.2 437.73 L278.7 437.60 L279.2 437.47 L279.7 437.34 L280.2 437.20 L280.7 437.06 L281.2 436.91 L281.7 436.76 L282.2 436.60 L282.7 436.44 L283.2 436.28 L283.7 436.10 L284.2 435.93 L284.7 435.74 L285.2 435.55 L285.7 435.36 L286.2 435.16 L286.7 434.95 L287.2 434.74 L287.7 434.51 L288.2 434.29 L288.7 434.05 L289.2 433.81 L289.7 433.56 L290.2 433.30 L290.7 433.03 L291.2 432.75 L291.7 432.46 L292.2 432.16 L292.7 431.85 L293.2 431.52 L293.7 431.19 L294.2 430.84 L294.7 430.49 L295.2 430.11 L295.7 429.73 L296.2 429.33 L296.7 428.92 L297.2 428.49 L297.7 428.04 L298.2 427.58 L298.7 427.11 L299.2 426.61 L299.7 426.10 L300.2 425.56 L300.7 425.01 L301.2 424.44 L301.7 423.84 L302.2 423.22 L302.7 422.58 L303.2 421.92 L303.7 421.23 L304.2 420.51 L304.7 419.77 L305.2 419.00 L305.7 418.19 L306.2 417.36 L306.7 416.50 L307.2 415.60 L307.7 414.67 L308.2 413.71 L308.7 412.70 L309.2 411.66 L309.7 410.58 L310.2 409.45 L310.7 408.28 L311.2 407.07 L311.7 405.81 L312.2 404.50 L312.7 403.14 L313.2 401.73 L313.7 400.26 L314.2 398.74 L314.7 397.16 L315.2 395.51 L315.7 393.80 L316.2 392.03 L316.7 390.18 L317.2 388.27 L317.7 386.29 L318.2 384.22 L318.7 382.07 L319.2 379.85 L319.7 377.53 L320.2 375.13 L320.7 372.64 L321.2 370.06 L321.7 367.37 L322.2 364.58 L322.7 361.70 L323.2 358.70 L323.7 355.59 L324.2 352.37 L324.7 349.03 L325.2 345.57 L325.7 341.99 L326.2 338.29 L326.7 334.44 L327.2 330.47 L327.7 326.37 L328.2 322.13 L328.7 317.74 L329.2 313.22 L329.7 308.56 L330.2 303.76 L330.7 298.80 L331.2 293.71 L331.7 288.48 L332.2 283.12 L332.7 277.60 L333.2 271.95 L333.7 266.18 L334.2 260.28 L334.7 254.26 L335.2 248.14 L335.7 241.91 L336.2 235.59 L336.7 229.20 L337.2 222.73 L337.7 216.22 L338.2 209.67 L338.7 203.11 L339.2 196.54 L339.7 190.00 L340.2 183.49 L340.7 177.05 L341.2 170.69 L341.7 164.43 L342.2 158.29 L342.7 152.29 L343.2 146.45 L343.7 140.78 L344.2 135.30 L344.7 130.01 L345.2 124.94 L345.7 120.08 L346.2 115.44 L346.7 111.02 L347.2 106.82 L347.7 102.85 L348.2 99.09 L348.7 95.54 L349.2 91.88 L349.7 87.98 L350.2 84.27 L350.7 80.75 L351.2 77.43 L351.7 74.32 L352.2 71.42 L352.7 68.75 L353.2 66.30 L353.7 64.08 L354.2 62.09 L354.7 60.34 L355.2 58.82 L355.7 57.57 L356.2 56.56 L356.7 55.80 L357.2 55.43 L357.7 55.06 L358.2 54.98 L358.7 55.33 L359.2 55.68 L359.7 56.23 L360.2 57.07 L360.7 58.16 L361.2 59.46 L361.7 60.97 L362.2 62.70 L362.7 64.64 L363.2 66.79 L363.7 69.14 L364.2 71.69 L364.7 74.43 L365.2 77.36 L365.7 80.48 L366.2 83.78 L366.7 87.26 L367.2 90.90 L367.7 94.34 L368.2 97.00 L368.7 99.74 L369.2 102.55 L369.7 105.42 L370.2 108.36 L370.7 111.37 L371.2 114.43 L371.7 117.55 L372.2 120.73 L372.7 123.96 L373.2 127.24 L373.7 130.57 L374.2 133.95 L374.7 137.37 L375.2 140.83 L375.7 144.32 L376.2 147.85 L376.7 151.40 L377.2 154.99 L377.7 158.60 L378.2 162.23 L378.7 165.88 L379.2 169.54 L379.7 173.21 L380.2 176.90 L380.7 180.59 L381.2 184.29 L381.7 187.98 L382.2 191.68 L382.7 195.37 L383.2 199.05 L383.7 202.73 L384.2 206.39 L384.7 210.04 L385.2 213.68 L385.7 217.29 L386.2 220.89 L386.7 224.47 L387.2 228.03 L387.7 231.56 L388.2 235.06 L388.7 238.54 L389.2 241.98 L389.7 245.40 L390.2 248.78 L390.7 252.13 L391.2 255.45 L391.7 258.74 L392.2 261.98 L392.7 265.20 L393.2 268.38 L393.7 271.52 L394.2 274.62 L394.7 277.68 L395.2 280.70 L395.7 283.69 L396.2 286.64 L396.7 289.54 L397.2 292.41 L397.7 295.23 L398.2 298.01 L398.7 300.76 L399.2 303.46 L399.7 306.11 L400.2 308.74 L400.7 311.32 L401.2 313.85 L401.7 316.35 L402.2 318.82 L402.7 321.23 L403.2 323.60 L403.7 325.95 L404.2 328.24 L404.7 330.50 L405.2 332.72 L405.7 334.91 L406.2 337.04 L406.7 339.15 L407.2 341.23 L407.7 343.25 L408.2 345.24 L408.7 347.21 L409.2 349.13 L409.7 351.01 L410.2 352.87 L410.7 354.69 L411.2 356.47 L411.7 358.22 L412.2 359.94 L412.7 361.63 L413.2 363.27 L413.7 364.89 L414.2 366.48 L414.7 368.04 L415.2 369.57 L415.7 371.06 L416.2 372.53 L416.7 373.97 L417.2 375.38 L417.7 376.76 L418.2 378.12 L418.7 379.45 L419.2 380.75 L419.7 382.02 L420.2 383.27 L420.7 384.50 L421.2 385.70 L421.7 386.87 L422.2 388.02 L422.7 389.15 L423.2 390.25 L423.7 391.33 L424.2 392.39 L424.7 393.43 L425.2 394.44 L425.7 395.43 L426.2 396.41 L426.7 397.36 L427.2 398.28 L427.7 399.20 L428.2 400.09 L428.7 400.96 L429.2 401.81 L429.7 402.65 L430.2 403.47 L430.7 404.27 L431.2 405.05 L431.7 405.82 L432.2 406.57 L432.7 407.30 L433.2 408.01 L433.7 408.72 L434.2 409.41 L434.7 410.07 L435.2 410.73 L435.7 411.37 L436.2 412.00 L436.7 412.62 L437.2 413.22 L437.7 413.81 L438.2 414.38 L438.7 414.94 L439.2 415.49 L439.7 416.03 L440.2 416.56 L440.7 417.07 L441.2 417.58 L441.7 418.07 L442.2 418.55 L442.7 419.02 L443.2 419.48 L443.7 419.94 L444.2 420.38 L444.7 420.81 L445.2 421.23 L445.7 421.64 L446.2 422.05 L446.7 422.44 L447.2 422.83 L447.7 423.21 L448.2 423.58 L448.7 423.94 L449.2 424.29 L449.7 424.64 L450.2 424.98 L450.7 425.31 L451.2 425.63 L451.7 425.95 L452.2 426.26 L452.7 426.57 L453.2 426.86 L453.7 427.15 L454.2 427.44 L454.7 427.72 L455.2 427.99 L455.7 428.26 L456.2 428.52 L456.7 428.77 L457.2 429.02 L457.7 429.27 L458.2 429.51 L458.7 429.74 L459.2 429.97 L459.7 430.19 L460.2 430.41 L460.7 430.63 L461.2 430.84 L461.7 431.05 L462.2 431.25 L462.7 431.45 L463.2 431.64 L463.7 431.83 L464.2 432.01 L464.7 432.19 L465.2 432.37 L465.7 432.55 L466.2 432.72 L466.7 432.88 L467.2 433.05 L467.7 433.21 L468.2 433.36 L468.7 433.52 L469.2 433.67 L469.7 433.81 L470.2 433.96 L470.7 434.10 L471.2 434.24 L471.7 434.37 L472.2 434.51 L472.7 434.64 L473.2 434.76 L473.7 434.89 L474.2 435.01 L474.7 435.13 L475.2 435.25 L475.7 435.36 L476.2 435.47 L476.7 435.58 L477.2 435.69 L477.7 435.80 L478.2 435.90 L478.7 436.00 L479.2 436.10 L479.7 436.20 L480.2 436.30 L480.7 436.39 L481.2 436.48 L481.7 436.57 L482.2 436.66 L482.7 436.75 L483.2 436.83 L483.7 436.92 L484.2 437.00 L484.7 437.08 L485.2 437.16 L485.7 437.23 L486.2 437.31 L486.7 437.38 L487.2 437.46 L487.7 437.53 L488.2 437.60 L488.7 437.67 L489.2 437.73 L489.7 437.80 L490.2 437.87 L490.7 437.93 L491.2 437.99 L491.7 438.06 L492.2 438.12 L492.7 438.18 L493.2 438.24 L493.7 438.29 L494.2 438.35 L494.7 438.41 L495.2 438.46 L495.7 438.51 L496.2 438.57 L496.7 438.62 L497.2 438.67 L497.7 438.72 L498.2 438.77 L498.7 438.82 L499.2 438.87 L499.7 438.91 L500.2 438.96 L500.7 439.00 L501.2 439.05 L501.7 439.09 L502.2 439.13 L502.7 439.18 L503.2 439.22 L503.7 439.26 L504.2 439.30 L504.7 439.34 L505.2 439.37 L505.7 439.41 L506.2 439.45 L506.7 439.49 L507.2 439.52 L507.7 439.56 L508.2 439.59 L508.7 439.62 L509.2 439.66 L509.7 439.69 L510.2 439.72 L510.7 439.75 L511.2 439.78 L511.7 439.81 L512.2 439.84 L512.7 439.87 L513.2 439.90 L513.7 439.93 L514.2 439.96 L514.7 439.99 L515.2 440.01 L515.7 440.04 L516.2 440.07 L516.7 440.09 L517.2 440.12 L517.7 440.14 L518.2 440.16 L518.7 440.19 L519.2 440.21 L519.7 440.23 L520.2 440.26 L520.7 440.28 L521.2 440.30 L521.7 440.32 L522.2 440.34 L522.7 440.36 L523.2 440.38 L523.7 440.40 L524.2 440.42 L524.7 440.44 L525.2 440.46 L525.7 440.48 L526.2 440.50 L526.7 440.51 L527.2 440.53 L527.7 440.55 L528.2 440.57 L528.7 440.58 L529.2 440.60 L529.7 440.62 L530.2 440.63 L530.7 440.65 L531.2 440.66 L531.7 440.68 L532.2 440.69 L532.7 440.71 L533.2 440.72 L533.7 440.73 L534.2 440.75 L534.7 440.76 L535.2 440.77 L535.7 440.79 L536.2 440.80 L536.7 440.81 L537.2 440.82 L537.7 440.84 L538.2 440.85 L538.7 440.86 L539.2 440.87 L539.7 440.88 L540.2 440.89 L540.7 440.90 L541.2 440.91 L541.7 440.92 L542.2 440.93 L542.7 440.94 L543.2 440.95 L543.7 440.96 L544.2 440.97 L544.7 440.98 L545.2 440.99 L545.7 441.00 L546.2 441.01 L546.7 441.02 L547.2 441.03 L547.7 441.04 L548.2 441.04 L548.7 441.05 L549.2 441.06 L549.7 441.07 L550.2 441.08 L550.7 441.08 L551.2 441.09 L551.7 441.10 L552.2 441.10 L552.7 441.11 L553.2 441.12 L553.7 441.13 L554.2 441.13 L554.7 441.14 L555.2 441.15 L555.7 441.15 L556.2 441.16 L556.7 441.16 L557.2 441.17 L557.7 441.18 L558.2 441.18 L558.7 441.19 L559.2 441.19 L559.7 441.20 L560.2 441.20 L560.7 441.21 L561.2 441.21 L561.7 441.22 L562.2 441.22 L562.7 441.23 L563.2 441.23 L563.7 441.24 L564.2 441.24 L564.7 441.25 L565.2 441.25 L565.7 441.26 L566.2 441.26 L566.7 441.27 L567.2 441.27 L567.7 441.27 L568.2 441.28 L568.7 441.28 L569.2 441.29 L569.7 441.29 L570.2 441.29 L570.7 441.30 L571.2 441.30 L571.7 441.30 L572.2 441.31 L572.7 441.31 L573.2 441.31 L573.7 441.32 L574.2 441.32 L574.7 441.32 L575.2 441.33 L575.7 441.33 L576.2 441.33 L576.7 441.34 L577.2 441.34 L577.7 441.34 L578.2 441.34 L578.7 441.35 L579.2 441.35 L579.7 441.35 L580.2 441.36 L580.7 441.36 L581.2 441.36 L581.7 441.36 L582.2 441.37 L582.7 441.37 L583.2 441.37 L583.7 441.37 L584.2 441.37 L584.7 441.38 L585.2 441.38 L585.7 441.38 L586.2 441.38 L586.7 441.39 L587.2 441.39 L587.7 441.39 L588.2 441.39 L588.7 441.39 L589.2 441.40 L589.7 441.40 L590.2 441.40 L590.7 441.40 L591.2 441.40 L591.7 441.40 L592.2 441.41 L592.7 441.41 L593.2 441.41 L593.7 441.41 L594.2 441.41 L594.7 441.41 L595.2 441.42 L595.7 441.42 L596.2 441.42 L596.7 441.42 L597.2 441.42 L597.7 441.42 L598.2 441.42 L598.7 441.43 L599.2 441.43 L599.7 441.43 L600.2 441.43 L600.7 441.43 L601.2 441.43 L601.7 441.43 L602.2 441.43 L602.7 441.44 L603.2 441.44 L603.7 441.44 L604.2 441.44 L604.7 441.44 L605.2 441.44 L605.7 441.44 L606.2 441.44 L606.7 441.44 L607.2 441.45 L607.7 441.45 L608.2 441.45 L608.7 441.45 L609.2 441.45 L609.7 441.45 L610.2 441.45 L610.7 441.45 L611.2 441.45 L611.7 441.45 L612.2 441.45 L612.7 441.46 L613.2 441.46 L613.7 441.46 L614.2 441.46 L614.7 441.46 L615.2 441.46 L615.7 441.46 L616.2 441.46 L616.7 441.46 L617.2 441.50 L617.7 441.50 L618.2 441.50 L618.7 441.50 L619.2 441.50 L619.7 441.50 L620.2 441.50 L620.7 441.50 L621.2 441.50 L621.7 441.50 L622.2 441.50 L622.7 441.50 L623.2 441.50 L623.7 441.50 L624.2 441.50 L624.7 441.50 L625.2 441.50 L625.7 441.50 L626.2 441.50 L626.7 441.50 L627.2 441.50 L627.7 441.50 L628.2 441.50 L628.7 441.50 L629.2 441.50 L629.7 441.50 L630.2 441.50 L630.7 441.50 L631.2 441.50 L631.7 441.50 L632.2 441.50 L632.7 441.50 L633.2 441.50 L633.7 441.50 L634.2 441.50 L634.7 441.50 L635.2 441.50 L635.7 441.50 L636.2 441.50 L636.7 441.50 L637.2 441.50 L637.7 441.50 L638.2 441.50 L638.7 441.50 L639.2 441.50 L639.7 441.50 L640.2 441.50 L640.7 441.50 L641.2 441.50 L641.7 441.50 L642.2 441.50 L642.7 441.50 L643.2 441.50 L643.7 441.50 L644.2 441.50 L644.7 441.50 L645.2 441.50 L645.7 441.50 L646.2 441.50 L646.7 441.50 L647.2 441.50 L647.7 441.50 L648.2 441.50 L648.7 441.50 L649.2 441.50 L649.7 441.50 L650.2 441.50 L650.7 441.50 L651.2 441.50 L651.7 441.50 L652.2 441.50 L652.7 441.50 L653.2 441.50 L653.7 441.50 L654.2 441.50 L654.7 441.50 L655.2 441.50 L655.7 441.50 L656.2 441.50 L656.7 441.50 L657.2 441.50 L657.7 441.50 L658.2 441.50 L658.7 441.50 L659.2 441.50 L659.7 441.50 L660.2 441.50 L660.7 441.50 L661.2 441.50 L661.7 441.50 L662.2 441.50 L662.7 441.50 L663.2 441.50 L663.7 441.50 L664.2 441.50 L664.7 441.50 L665.2 441.50 L665.7 441.50 L666.2 441.50 L666.7 441.50 L667.2 441.50 L667.7 441.50 L668.2 441.50 L668.7 441.50 L669.2 441.50 L669.7 441.50 L670.2 441.50 L670.7 441.50 L671.2 441.50 L671.7 441.50 L672.2 441.50 L672.7 441.50 L673.2 441.50 L673.7 441.50 L674.2 441.50 L674.7 441.50 L675.2 441.50 L675.7 441.50 L676.2 441.50 L676.7 441.50 L677.2 441.50 L677.7 441.50 L678.2 441.50 L678.7 441.50 L679.2 441.50 L679.7 441.50 L680.2 441.50 L680.7 441.50 L681.2 441.50 L681.7 441.50 L682.2 441.50 L682.7 441.50 L683.2 441.50 L683.7 441.50 L684.2 441.50 L684.7 441.50 L685.2 441.50 L685.7 441.50 L686.2 441.50 L686.7 441.50 L687.2 441.50 L687.7 441.50 L688.2 441.50 L688.7 441.50 L689.2 441.50 L689.7 441.50 L690.2 441.50 L690.7 441.50 L691.2 441.50 L691.7 441.50 L692.2 441.50 L692.7 441.50 L693.2 441.50 L693.7 441.50 L694.2 441.50 L694.7 441.50 L695.2 441.50 L695.7 441.50 L696.2 441.50 L696.7 441.50 L697.2 441.50 L697.7 441.50 L698.2 441.50 L698.7 441.50 L699.2 441.50 L699.7 441.50 L700.2 441.50 L700.7 441.50 L701.2 441.50 L701.7 441.50 L702.2 441.50 L702.7 441.50 L703.2 441.50 L703.7 441.50 L704.2 441.50 L704.7 441.50 L705.2 441.50 L705.7 441.50 L706.2 441.50 L706.7 441.50 L707.2 441.50 L707.7 441.50 L708.2 441.50 L708.7 441.50 L709.2 441.50 L709.7 441.50 L710.2 441.50 L710.7 441.50 L711.2 441.50 L711.7 441.50 L712.2 441.50 L712.7 441.50 L713.2 441.50 L713.7 441.50 L714.2 441.50 L714.7 441.50 L715.2 441.50 L715.7 441.50 L716.2 441.50 L716.7 441.50 L717.2 441.50 L717.7 441.50 L718.2 441.50 L718.7 441.50 L719.2 441.50 L719.7 441.50 L720.2 441.50 L720.7 441.50 L721.2 441.50 L721.7 441.50 L722.2 441.50 L722.7 441.50 L723.2 441.50 L723.7 441.50 L724.2 441.50 L724.7 441.50 L725.2 441.50 L725.7 441.50 L726.2 441.50 L726.7 441.50" stroke="#0ca851" stroke-width="3.5"/>
<path d="M153.7 441.50 L154.2 441.50 L154.7 441.50 L155.2 441.50 L155.7 441.50 L156.2 441.50 L156.7 441.50 L157.2 441.50 L157.7 441.50 L158.2 441.50 L158.7 441.50 L159.2 441.50 L159.7 441.50 L160.2 441.50 L160.7 441.50 L161.2 441.50 L161.7 441.50 L162.2 441.50 L162.7 441.50 L163.2 441.50 L163.7 441.50 L164.2 441.50 L164.7 441.50 L165.2 441.50 L165.7 441.50 L166.2 441.50 L166.7 441.50 L167.2 441.50 L167.7 441.50 L168.2 441.50 L168.7 441.50 L169.2 441.50 L169.7 441.50 L170.2 441.50 L170.7 441.50 L171.2 441.50 L171.7 441.50 L172.2 441.50 L172.7 441.50 L173.2 441.50 L173.7 441.50 L174.2 441.50 L174.7 441.50 L175.2 441.50 L175.7 441.50 L176.2 441.50 L176.7 441.50 L177.2 441.50 L177.7 441.50 L178.2 441.50 L178.7 441.50 L179.2 441.50 L179.7 441.50 L180.2 441.50 L180.7 441.50 L181.2 441.50 L181.7 441.50 L182.2 441.50 L182.7 441.50 L183.2 441.50 L183.7 441.50 L184.2 441.50 L184.7 441.50 L185.2 441.50 L185.7 441.50 L186.2 441.50 L186.7 441.50 L187.2 441.50 L187.7 441.50 L188.2 441.50 L188.7 441.50 L189.2 441.50 L189.7 441.50 L190.2 441.50 L190.7 441.50 L191.2 441.50 L191.7 441.50 L192.2 441.50 L192.7 441.50 L193.2 441.50 L193.7 441.50 L194.2 441.50 L194.7 441.50 L195.2 441.50 L195.7 441.50 L196.2 441.50 L196.7 441.50 L197.2 441.50 L197.7 441.50 L198.2 441.50 L198.7 441.50 L199.2 441.50 L199.7 441.50 L200.2 441.50 L200.7 441.50 L201.2 441.50 L201.7 441.50 L202.2 441.50 L202.7 441.50 L203.2 441.50 L203.7 441.50 L204.2 441.50 L204.7 441.50 L205.2 441.50 L205.7 441.50 L206.2 441.50 L206.7 441.50 L207.2 441.50 L207.7 441.50 L208.2 441.50 L208.7 441.50 L209.2 441.50 L209.7 441.49 L210.2 441.49 L210.7 441.49 L211.2 441.49 L211.7 441.49 L212.2 441.49 L212.7 441.49 L213.2 441.49 L213.7 441.49 L214.2 441.49 L214.7 441.49 L215.2 441.49 L215.7 441.49 L216.2 441.48 L216.7 441.48 L217.2 441.48 L217.7 441.48 L218.2 441.47 L218.7 441.47 L219.2 441.47 L219.7 441.46 L220.2 441.46 L220.7 441.45 L221.2 441.45 L221.7 441.44 L222.2 441.43 L222.7 441.42 L223.2 441.40 L223.7 441.39 L224.2 441.37 L224.7 441.35 L225.2 441.32 L225.7 441.29 L226.2 441.26 L226.7 441.22 L227.2 441.18 L227.7 441.13 L228.2 441.08 L228.7 441.02 L229.2 440.95 L229.7 440.88 L230.2 440.79 L230.7 440.71 L231.2 440.61 L231.7 440.50 L232.2 440.39 L232.7 440.27 L233.2 440.14 L233.7 440.01 L234.2 439.87 L234.7 439.73 L235.2 439.58 L235.7 439.44 L236.2 439.29 L236.7 439.14 L237.2 438.99 L237.7 438.84 L238.2 438.70 L238.7 438.57 L239.2 438.45 L239.7 438.33 L240.2 438.23 L240.7 438.14 L241.2 438.06 L241.7 438.00 L242.2 437.95 L242.7 437.92 L243.2 437.91 L243.7 437.90 L244.2 437.89 L244.7 437.89 L245.2 437.89 L245.7 437.89 L246.2 437.90 L246.7 437.90 L247.2 437.91 L247.7 437.93 L248.2 437.94 L248.7 437.96 L249.2 437.98 L249.7 438.00 L250.2 438.03 L250.7 438.06 L251.2 438.09 L251.7 438.12 L252.2 438.15 L252.7 438.18 L253.2 438.22 L253.7 438.26 L254.2 438.30 L254.7 438.34 L255.2 438.38 L255.7 438.42 L256.2 438.47 L256.7 438.51 L257.2 438.56 L257.7 438.60 L258.2 438.65 L258.7 438.69 L259.2 438.74 L259.7 438.79 L260.2 438.83 L260.7 438.88 L261.2 438.93 L261.7 438.97 L262.2 439.02 L262.7 439.06 L263.2 439.11 L263.7 439.15 L264.2 439.20 L264.7 439.24 L265.2 439.28 L265.7 439.33 L266.2 439.37 L266.7 439.41 L267.2 439.45 L267.7 439.49 L268.2 439.53 L268.7 439.57 L269.2 439.60 L269.7 439.64 L270.2 439.67 L270.7 439.71 L271.2 439.74 L271.7 439.77 L272.2 439.81 L272.7 439.84 L273.2 439.87 L273.7 439.90 L274.2 439.93 L274.7 439.96 L275.2 439.98 L275.7 440.01 L276.2 440.04 L276.7 440.06 L277.2 440.05 L277.7 440.07 L278.2 440.09 L278.7 440.11 L279.2 440.12 L279.7 440.14 L280.2 440.16 L280.7 440.17 L281.2 440.19 L281.7 440.20 L282.2 440.21 L282.7 440.23 L283.2 440.24 L283.7 440.25 L284.2 440.26 L284.7 440.27 L285.2 440.28 L285.7 440.28 L286.2 440.29 L286.7 440.30 L287.2 440.31 L287.7 440.31 L288.2 440.32 L288.7 440.33 L289.2 440.33 L289.7 440.34 L290.2 440.34 L290.7 440.34 L291.2 440.35 L291.7 440.35 L292.2 440.36 L292.7 440.36 L293.2 440.36 L293.7 440.36 L294.2 440.37 L294.7 440.37 L295.2 440.37 L295.7 440.37 L296.2 440.37 L296.7 440.37 L297.2 440.37 L297.7 440.37 L298.2 440.37 L298.7 440.37 L299.2 440.37 L299.7 440.37 L300.2 440.37 L300.7 440.37 L301.2 440.37 L301.7 440.36 L302.2 440.36 L302.7 440.36 L303.2 440.35 L303.7 440.35 L304.2 440.35 L304.7 440.34 L305.2 440.34 L305.7 440.33 L306.2 440.33 L306.7 440.32 L307.2 440.32 L307.7 440.31 L308.2 440.30 L308.7 440.29 L309.2 440.28 L309.7 440.28 L310.2 440.27 L310.7 440.26 L311.2 440.24 L311.7 440.23 L312.2 440.22 L312.7 440.21 L313.2 440.20 L313.7 440.18 L314.2 440.17 L314.7 440.15 L315.2 440.13 L315.7 440.12 L316.2 440.10 L316.7 440.08 L317.2 440.06 L317.7 440.04 L318.2 440.02 L318.7 439.99 L319.2 439.97 L319.7 439.94 L320.2 439.92 L320.7 439.89 L321.2 439.86 L321.7 439.83 L322.2 439.80 L322.7 439.77 L323.2 439.73 L323.7 439.70 L324.2 439.66 L324.7 439.62 L325.2 439.58 L325.7 439.54 L326.2 439.50 L326.7 439.46 L327.2 439.41 L327.7 439.36 L328.2 439.31 L328.7 439.26 L329.2 439.21 L329.7 439.15 L330.2 439.09 L330.7 439.04 L331.2 438.97 L331.7 438.91 L332.2 438.84 L332.7 438.78 L333.2 438.71 L333.7 438.63 L334.2 438.56 L334.7 438.48 L335.2 438.40 L335.7 438.32 L336.2 438.23 L336.7 438.14 L337.2 438.05 L337.7 437.96 L338.2 437.86 L338.7 437.76 L339.2 437.65 L339.7 437.55 L340.2 437.44 L340.7 437.32 L341.2 437.20 L341.7 437.08 L342.2 436.96 L342.7 436.83 L343.2 436.70 L343.7 436.56 L344.2 436.42 L344.7 436.27 L345.2 436.12 L345.7 435.97 L346.2 435.81 L346.7 435.65 L347.2 435.48 L347.7 435.31 L348.2 435.13 L348.7 434.95 L349.2 434.76 L349.7 434.57 L350.2 434.37 L350.7 434.17 L351.2 433.96 L351.7 433.72 L352.2 433.43 L352.7 433.13 L353.2 432.82 L353.7 432.50 L354.2 432.16 L354.7 431.82 L355.2 431.46 L355.7 431.10 L356.2 430.72 L356.7 430.32 L357.2 429.92 L357.7 429.50 L358.2 429.07 L358.7 428.62 L359.2 428.16 L359.7 427.68 L360.2 427.19 L360.7 426.69 L361.2 426.16 L361.7 425.63 L362.2 425.07 L362.7 424.50 L363.2 423.91 L363.7 423.30 L364.2 422.68 L364.7 422.03 L365.2 421.37 L365.7 420.69 L366.2 419.99 L366.7 419.27 L367.2 418.53 L367.7 417.76 L368.2 416.98 L368.7 416.17 L369.2 415.34 L369.7 414.49 L370.2 413.62 L370.7 412.72 L371.2 411.80 L371.7 410.86 L372.2 409.89 L372.7 408.89 L373.2 407.87 L373.7 406.82 L374.2 405.75 L374.7 404.65 L375.2 403.53 L375.7 402.37 L376.2 401.19 L376.7 399.98 L377.2 398.74 L377.7 397.48 L378.2 396.18 L378.7 394.85 L379.2 393.50 L379.7 392.11 L380.2 390.70 L380.7 389.25 L381.2 387.77 L381.7 386.26 L382.2 384.72 L382.7 383.14 L383.2 381.54 L383.7 379.90 L384.2 378.23 L384.7 376.52 L385.2 374.79 L385.7 373.02 L386.2 371.21 L386.7 369.38 L387.2 367.51 L387.7 365.61 L388.2 363.67 L388.7 361.70 L389.2 359.70 L389.7 357.66 L390.2 355.59 L390.7 353.49 L391.2 351.35 L391.7 349.18 L392.2 346.98 L392.7 344.74 L393.2 342.47 L393.7 340.16 L394.2 337.83 L394.7 335.47 L395.2 333.07 L395.7 330.63 L396.2 328.17 L396.7 325.69 L397.2 323.16 L397.7 320.61 L398.2 318.03 L398.7 315.42 L399.2 312.78 L399.7 310.11 L400.2 307.42 L400.7 304.70 L401.2 301.95 L401.7 299.18 L402.2 296.39 L402.7 293.57 L403.2 290.72 L403.7 287.86 L404.2 284.97 L404.7 282.07 L405.2 279.14 L405.7 276.19 L406.2 273.23 L406.7 270.25 L407.2 267.26 L407.7 264.25 L408.2 261.22 L408.7 258.19 L409.2 255.14 L409.7 252.08 L410.2 249.01 L410.7 245.93 L411.2 242.85 L411.7 239.76 L412.2 236.66 L412.7 233.56 L413.2 230.46 L413.7 227.36 L414.2 224.25 L414.7 221.15 L415.2 218.05 L415.7 214.96 L416.2 211.87 L416.7 208.78 L417.2 205.71 L417.7 202.64 L418.2 199.58 L418.7 196.53 L419.2 193.50 L419.7 190.48 L420.2 187.47 L420.7 184.49 L421.2 181.51 L421.7 178.56 L422.2 175.63 L422.7 172.72 L423.2 169.83 L423.7 166.96 L424.2 164.12 L424.7 161.30 L425.2 158.52 L425.7 155.75 L426.2 153.02 L426.7 150.32 L427.2 147.65 L427.7 145.01 L428.2 142.40 L428.7 139.82 L429.2 137.28 L429.7 134.78 L430.2 132.31 L430.7 129.88 L431.2 127.48 L431.7 125.12 L432.2 122.81 L432.7 120.53 L433.2 118.29 L433.7 116.09 L434.2 113.93 L434.7 111.81 L435.2 109.73 L435.7 107.70 L436.2 105.71 L436.7 103.76 L437.2 101.85 L437.7 99.99 L438.2 98.16 L438.7 96.38 L439.2 94.65 L439.7 92.95 L440.2 91.31 L440.7 89.70 L441.2 88.13 L441.7 86.61 L442.2 85.13 L442.7 83.70 L443.2 82.30 L443.7 80.95 L444.2 79.64 L444.7 78.36 L445.2 77.13 L445.7 75.95 L446.2 74.81 L446.7 73.70 L447.2 72.62 L447.7 71.58 L448.2 70.56 L448.7 69.57 L449.2 68.61 L449.7 67.69 L450.2 66.79 L450.7 65.93 L451.2 65.10 L451.7 64.30 L452.2 63.52 L452.7 62.79 L453.2 62.08 L453.7 61.41 L454.2 60.76 L454.7 60.16 L455.2 59.58 L455.7 59.04 L456.2 58.53 L456.7 58.06 L457.2 57.62 L457.7 57.21 L458.2 56.82 L458.7 56.51 L459.2 56.20 L459.7 55.89 L460.2 55.74 L460.7 55.61 L461.2 55.47 L461.7 55.33 L462.2 55.19 L462.7 55.06 L463.2 54.92 L463.7 54.90 L464.2 55.03 L464.7 55.17 L465.2 55.31 L465.7 55.45 L466.2 55.58 L466.7 55.72 L467.2 55.86 L467.7 56.16 L468.2 56.47 L468.7 56.78 L469.2 57.17 L469.7 57.58 L470.2 58.01 L470.7 58.49 L471.2 59.00 L471.7 59.55 L472.2 60.13 L472.7 60.73 L473.2 61.38 L473.7 62.06 L474.2 62.76 L474.7 63.51 L475.2 64.29 L475.7 65.09 L476.2 65.93 L476.7 66.80 L477.2 67.71 L477.7 68.64 L478.2 69.61 L478.7 70.60 L479.2 71.63 L479.7 72.69 L480.2 73.78 L480.7 74.89 L481.2 76.04 L481.7 77.20 L482.2 78.40 L482.7 79.62 L483.2 80.87 L483.7 82.14 L484.2 83.44 L484.7 84.76 L485.2 86.10 L485.7 87.47 L486.2 88.87 L486.7 90.28 L487.2 91.72 L487.7 93.18 L488.2 94.65 L488.7 96.15 L489.2 97.67 L489.7 99.21 L490.2 100.77 L490.7 102.34 L491.2 103.93 L491.7 105.54 L492.2 107.17 L492.7 108.81 L493.2 110.47 L493.7 112.14 L494.2 113.83 L494.7 115.53 L495.2 117.25 L495.7 118.98 L496.2 120.72 L496.7 122.48 L497.2 124.24 L497.7 126.02 L498.2 127.81 L498.7 129.61 L499.2 131.41 L499.7 133.23 L500.2 135.06 L500.7 136.89 L501.2 138.74 L501.7 140.59 L502.2 142.45 L502.7 144.31 L503.2 146.19 L503.7 148.07 L504.2 149.95 L504.7 151.84 L505.2 153.73 L505.7 155.63 L506.2 157.54 L506.7 159.44 L507.2 161.35 L507.7 163.27 L508.2 165.18 L508.7 167.10 L509.2 169.02 L509.7 170.94 L510.2 172.87 L510.7 174.79 L511.2 176.71 L511.7 178.64 L512.2 180.57 L512.7 182.49 L513.2 184.42 L513.7 186.34 L514.2 188.26 L514.7 190.18 L515.2 192.10 L515.7 194.02 L516.2 195.94 L516.7 197.85 L517.2 199.76 L517.7 201.66 L518.2 203.57 L518.7 205.47 L519.2 207.37 L519.7 209.26 L520.2 211.15 L520.7 213.03 L521.2 214.91 L521.7 216.78 L522.2 218.65 L522.7 220.52 L523.2 222.37 L523.7 224.23 L524.2 226.07 L524.7 227.92 L525.2 229.75 L525.7 231.58 L526.2 233.40 L526.7 235.22 L527.2 237.02 L527.7 238.83 L528.2 240.62 L528.7 242.41 L529.2 244.19 L529.7 245.96 L530.2 247.72 L530.7 249.47 L531.2 251.22 L531.7 252.96 L532.2 254.69 L532.7 256.41 L533.2 258.13 L533.7 259.84 L534.2 261.53 L534.7 263.23 L535.2 264.91 L535.7 266.58 L536.2 268.24 L536.7 269.90 L537.2 271.54 L537.7 273.18 L538.2 274.80 L538.7 276.41 L539.2 278.02 L539.7 279.62 L540.2 281.20 L540.7 282.79 L541.2 284.35 L541.7 285.91 L542.2 287.47 L542.7 289.00 L543.2 290.53 L543.7 292.05 L544.2 293.55 L544.7 295.05 L545.2 296.55 L545.7 298.02 L546.2 299.49 L546.7 300.95 L547.2 302.39 L547.7 303.84 L548.2 305.26 L548.7 306.68 L549.2 308.09 L549.7 309.48 L550.2 310.87 L550.7 312.25 L551.2 313.61 L551.7 314.97 L552.2 316.31 L552.7 317.65 L553.2 318.98 L553.7 320.29 L554.2 321.59 L554.7 322.89 L555.2 324.17 L555.7 325.45 L556.2 326.71 L556.7 327.96 L557.2 329.21 L557.7 330.43 L558.2 331.66 L558.7 332.87 L559.2 334.07 L559.7 335.27 L560.2 336.45 L560.7 337.62 L561.2 338.78 L561.7 339.93 L562.2 341.08 L562.7 342.21 L563.2 343.33 L563.7 344.44 L564.2 345.54 L564.7 346.64 L565.2 347.72 L565.7 348.79 L566.2 349.86 L566.7 350.91 L567.2 351.96 L567.7 352.99 L568.2 354.02 L568.7 355.03 L569.2 356.04 L569.7 357.04 L570.2 358.02 L570.7 359.00 L571.2 359.97 L571.7 360.93 L572.2 361.88 L572.7 362.82 L573.2 363.75 L573.7 364.67 L574.2 365.59 L574.7 366.49 L575.2 367.39 L575.7 368.28 L576.2 369.15 L576.7 370.02 L577.2 370.88 L577.7 371.73 L578.2 372.57 L578.7 373.40 L579.2 374.23 L579.7 375.04 L580.2 375.85 L580.7 376.65 L581.2 377.43 L581.7 378.21 L582.2 378.98 L582.7 379.75 L583.2 380.50 L583.7 381.24 L584.2 381.98 L584.7 382.70 L585.2 383.42 L585.7 384.13 L586.2 384.84 L586.7 385.52 L587.2 386.21 L587.7 386.89 L588.2 387.56 L588.7 388.21 L589.2 388.87 L589.7 389.51 L590.2 390.14 L590.7 390.78 L591.2 391.39 L591.7 392.01 L592.2 392.61 L592.7 393.21 L593.2 393.80 L593.7 394.38 L594.2 394.96 L594.7 395.52 L595.2 396.08 L595.7 396.63 L596.2 397.18 L596.7 397.72 L597.2 398.25 L597.7 398.78 L598.2 399.29 L598.7 399.81 L599.2 400.31 L599.7 400.81 L600.2 401.30 L600.7 401.79 L601.2 402.27 L601.7 402.74 L602.2 403.21 L602.7 403.66 L603.2 404.12 L603.7 404.57 L604.2 405.01 L604.7 405.45 L605.2 405.88 L605.7 406.30 L606.2 406.72 L606.7 407.14 L607.2 407.55 L607.7 407.95 L608.2 408.35 L608.7 408.74 L609.2 409.13 L609.7 409.51 L610.2 409.88 L610.7 410.26 L611.2 410.62 L611.7 410.99 L612.2 411.34 L612.7 411.70 L613.2 412.05 L613.7 412.39 L614.2 412.73 L614.7 413.06 L615.2 413.39 L615.7 413.72 L616.2 414.04 L616.7 414.36 L617.2 414.67 L617.7 414.98 L618.2 415.28 L618.7 415.58 L619.2 415.88 L619.7 416.17 L620.2 416.46 L620.7 416.75 L621.2 417.03 L621.7 417.31 L622.2 417.58 L622.7 417.85 L623.2 418.12 L623.7 418.38 L624.2 418.64 L624.7 418.90 L625.2 419.15 L625.7 419.40 L626.2 419.65 L626.7 419.89 L627.2 420.13 L627.7 420.37 L628.2 420.60 L628.7 420.83 L629.2 421.06 L629.7 421.29 L630.2 421.51 L630.7 421.73 L631.2 421.95 L631.7 422.16 L632.2 422.37 L632.7 422.58 L633.2 422.79 L633.7 422.99 L634.2 423.19 L634.7 423.39 L635.2 423.58 L635.7 423.78 L636.2 423.97 L636.7 424.15 L637.2 424.34 L637.7 424.52 L638.2 424.70 L638.7 424.88 L639.2 425.06 L639.7 425.24 L640.2 425.41 L640.7 425.58 L641.2 425.75 L641.7 425.91 L642.2 426.07 L642.7 426.24 L643.2 426.39 L643.7 426.55 L644.2 426.71 L644.7 426.86 L645.2 427.02 L645.7 427.16 L646.2 427.31 L646.7 427.46 L647.2 427.60 L647.7 427.75 L648.2 427.89 L648.7 428.03 L649.2 428.16 L649.7 428.30 L650.2 428.43 L650.7 428.57 L651.2 428.70 L651.7 428.83 L652.2 428.96 L652.7 429.08 L653.2 429.21 L653.7 429.33 L654.2 429.45 L654.7 429.57 L655.2 429.69 L655.7 429.81 L656.2 429.93 L656.7 430.04 L657.2 430.15 L657.7 430.27 L658.2 430.38 L658.7 430.49 L659.2 430.59 L659.7 430.70 L660.2 430.81 L660.7 430.91 L661.2 431.01 L661.7 431.12 L662.2 431.22 L662.7 431.32 L663.2 431.41 L663.7 431.51 L664.2 431.61 L664.7 431.70 L665.2 431.80 L665.7 431.89 L666.2 431.98 L666.7 432.07 L667.2 432.16 L667.7 432.25 L668.2 432.34 L668.7 432.43 L669.2 432.51 L669.7 432.60 L670.2 432.68 L670.7 432.76 L671.2 432.85 L671.7 432.93 L672.2 433.01 L672.7 433.09 L673.2 433.16 L673.7 433.24 L674.2 433.32 L674.7 433.39 L675.2 433.47 L675.7 433.54 L676.2 433.62 L676.7 433.69 L677.2 433.76 L677.7 433.83 L678.2 433.90 L678.7 433.97 L679.2 434.04 L679.7 434.11 L680.2 434.17 L680.7 434.24 L681.2 434.30 L681.7 434.37 L682.2 434.43 L682.7 434.50 L683.2 434.56 L683.7 434.62 L684.2 434.68 L684.7 434.74 L685.2 434.80 L685.7 434.86 L686.2 434.92 L686.7 434.98 L687.2 435.04 L687.7 435.10 L688.2 435.15 L688.7 435.21 L689.2 435.26 L689.7 435.32 L690.2 435.37 L690.7 435.42 L691.2 435.48 L691.7 435.53 L692.2 435.58 L692.7 435.63 L693.2 435.68 L693.7 435.73 L694.2 435.78 L694.7 435.83 L695.2 435.88 L695.7 435.93 L696.2 435.98 L696.7 436.02 L697.2 436.07 L697.7 436.12 L698.2 436.16 L698.7 436.21 L699.2 436.25 L699.7 436.30 L700.2 436.34 L700.7 436.38 L701.2 436.43 L701.7 436.47 L702.2 436.51 L702.7 436.55 L703.2 436.60 L703.7 436.64 L704.2 436.68 L704.7 436.72 L705.2 436.76 L705.7 436.80 L706.2 436.83 L706.7 436.87 L707.2 436.91 L707.7 436.95 L708.2 436.99 L708.7 437.02 L709.2 437.06 L709.7 437.10 L710.2 437.13 L710.7 437.17 L711.2 437.20 L711.7 437.24 L712.2 437.27 L712.7 437.31 L713.2 437.34 L713.7 437.37 L714.2 437.41 L714.7 437.44 L715.2 437.47 L715.7 437.50 L716.2 437.54 L716.7 437.57 L717.2 437.60 L717.7 437.63 L718.2 437.66 L718.7 437.69 L719.2 437.72 L719.7 437.75 L720.2 437.78 L720.7 437.81 L721.2 437.84 L721.7 437.87 L722.2 437.90 L722.7 437.92 L723.2 437.95 L723.7 437.98 L724.2 438.01 L724.7 438.04 L725.2 438.06 L725.7 438.09 L726.2 438.12 L726.7 438.14" stroke="#9a6810" stroke-width="3.5"/>
<path d="M153.7 441.50 L154.2 441.50 L154.7 441.50 L155.2 441.50 L155.7 441.50 L156.2 441.50 L156.7 441.50 L157.2 441.50 L157.7 441.50 L158.2 441.50 L158.7 441.50 L159.2 441.50 L159.7 441.50 L160.2 441.50 L160.7 441.50 L161.2 441.50 L161.7 441.50 L162.2 441.50 L162.7 441.50 L163.2 441.50 L163.7 441.50 L164.2 441.50 L164.7 441.50 L165.2 441.50 L165.7 441.50 L166.2 441.50 L166.7 441.50 L167.2 441.50 L167.7 441.50 L168.2 441.50 L168.7 441.50 L169.2 441.50 L169.7 441.50 L170.2 441.50 L170.7 441.50 L171.2 441.50 L171.7 441.50 L172.2 441.50 L172.7 441.50 L173.2 441.50 L173.7 441.50 L174.2 441.50 L174.7 441.50 L175.2 441.50 L175.7 441.50 L176.2 441.50 L176.7 441.50 L177.2 441.50 L177.7 441.50 L178.2 441.50 L178.7 441.50 L179.2 441.50 L179.7 441.50 L180.2 441.50 L180.7 441.50 L181.2 441.50 L181.7 441.50 L182.2 441.50 L182.7 441.50 L183.2 441.50 L183.7 441.50 L184.2 441.50 L184.7 441.50 L185.2 441.50 L185.7 441.50 L186.2 441.50 L186.7 441.50 L187.2 441.50 L187.7 441.50 L188.2 441.50 L188.7 441.50 L189.2 441.50 L189.7 441.50 L190.2 441.50 L190.7 441.50 L191.2 441.50 L191.7 441.50 L192.2 441.50 L192.7 441.50 L193.2 441.50 L193.7 441.50 L194.2 441.50 L194.7 441.50 L195.2 441.50 L195.7 441.50 L196.2 441.50 L196.7 441.50 L197.2 441.50 L197.7 441.50 L198.2 441.50 L198.7 441.50 L199.2 441.50 L199.7 441.50 L200.2 441.50 L200.7 441.50 L201.2 441.50 L201.7 441.50 L202.2 441.50 L202.7 441.50 L203.2 441.50 L203.7 441.50 L204.2 441.50 L204.7 441.50 L205.2 441.50 L205.7 441.50 L206.2 441.50 L206.7 441.50 L207.2 441.50 L207.7 441.50 L208.2 441.50 L208.7 441.50 L209.2 441.50 L209.7 441.50 L210.2 441.50 L210.7 441.50 L211.2 441.50 L211.7 441.50 L212.2 441.50 L212.7 441.50 L213.2 441.50 L213.7 441.50 L214.2 441.50 L214.7 441.50 L215.2 441.50 L215.7 441.50 L216.2 441.50 L216.7 441.50 L217.2 441.50 L217.7 441.50 L218.2 441.50 L218.7 441.50 L219.2 441.50 L219.7 441.50 L220.2 441.50 L220.7 441.50 L221.2 441.50 L221.7 441.50 L222.2 441.50 L222.7 441.50 L223.2 441.50 L223.7 441.50 L224.2 441.50 L224.7 441.50 L225.2 441.50 L225.7 441.50 L226.2 441.50 L226.7 441.50 L227.2 441.50 L227.7 441.50 L228.2 441.50 L228.7 441.50 L229.2 441.50 L229.7 441.50 L230.2 441.50 L230.7 441.50 L231.2 441.50 L231.7 441.50 L232.2 441.50 L232.7 441.50 L233.2 441.50 L233.7 441.50 L234.2 441.50 L234.7 441.50 L235.2 441.50 L235.7 441.50 L236.2 441.50 L236.7 441.50 L237.2 441.50 L237.7 441.50 L238.2 441.50 L238.7 441.50 L239.2 441.50 L239.7 441.50 L240.2 441.50 L240.7 441.50 L241.2 441.50 L241.7 441.50 L242.2 441.50 L242.7 441.50 L243.2 441.50 L243.7 441.50 L244.2 441.50 L244.7 441.50 L245.2 441.50 L245.7 441.50 L246.2 441.50 L246.7 441.50 L247.2 441.50 L247.7 441.50 L248.2 441.50 L248.7 441.50 L249.2 441.50 L249.7 441.50 L250.2 441.50 L250.7 441.50 L251.2 441.50 L251.7 441.50 L252.2 441.50 L252.7 441.50 L253.2 441.50 L253.7 441.50 L254.2 441.50 L254.7 441.50 L255.2 441.50 L255.7 441.50 L256.2 441.50 L256.7 441.50 L257.2 441.50 L257.7 441.50 L258.2 441.50 L258.7 441.50 L259.2 441.50 L259.7 441.50 L260.2 441.50 L260.7 441.50 L261.2 441.50 L261.7 441.50 L262.2 441.50 L262.7 441.50 L263.2 441.50 L263.7 441.50 L264.2 441.50 L264.7 441.50 L265.2 441.50 L265.7 441.50 L266.2 441.50 L266.7 441.50 L267.2 441.50 L267.7 441.50 L268.2 441.50 L268.7 441.50 L269.2 441.50 L269.7 441.50 L270.2 441.50 L270.7 441.50 L271.2 441.50 L271.7 441.50 L272.2 441.50 L272.7 441.50 L273.2 441.50 L273.7 441.50 L274.2 441.50 L274.7 441.50 L275.2 441.50 L275.7 441.50 L276.2 441.50 L276.7 441.50 L277.2 441.50 L277.7 441.50 L278.2 441.50 L278.7 441.50 L279.2 441.50 L279.7 441.50 L280.2 441.50 L280.7 441.50 L281.2 441.50 L281.7 441.50 L282.2 441.50 L282.7 441.50 L283.2 441.50 L283.7 441.50 L284.2 441.50 L284.7 441.50 L285.2 441.50 L285.7 441.50 L286.2 441.50 L286.7 441.50 L287.2 441.50 L287.7 441.50 L288.2 441.50 L288.7 441.50 L289.2 441.50 L289.7 441.50 L290.2 441.50 L290.7 441.50 L291.2 441.50 L291.7 441.50 L292.2 441.50 L292.7 441.50 L293.2 441.50 L293.7 441.50 L294.2 441.50 L294.7 441.50 L295.2 441.50 L295.7 441.50 L296.2 441.50 L296.7 441.50 L297.2 441.50 L297.7 441.50 L298.2 441.50 L298.7 441.50 L299.2 441.50 L299.7 441.50 L300.2 441.50 L300.7 441.50 L301.2 441.50 L301.7 441.50 L302.2 441.50 L302.7 441.50 L303.2 441.50 L303.7 441.50 L304.2 441.50 L304.7 441.50 L305.2 441.50 L305.7 441.50 L306.2 441.50 L306.7 441.50 L307.2 441.50 L307.7 441.50 L308.2 441.50 L308.7 441.50 L309.2 441.50 L309.7 441.50 L310.2 441.50 L310.7 441.50 L311.2 441.50 L311.7 441.50 L312.2 441.50 L312.7 441.50 L313.2 441.50 L313.7 441.50 L314.2 441.50 L314.7 441.50 L315.2 441.50 L315.7 441.50 L316.2 441.50 L316.7 441.50 L317.2 441.50 L317.7 441.50 L318.2 441.50 L318.7 441.50 L319.2 441.50 L319.7 441.50 L320.2 441.50 L320.7 441.50 L321.2 441.50 L321.7 441.50 L322.2 441.46 L322.7 441.46 L323.2 441.46 L323.7 441.46 L324.2 441.46 L324.7 441.46 L325.2 441.45 L325.7 441.45 L326.2 441.45 L326.7 441.45 L327.2 441.45 L327.7 441.45 L328.2 441.45 L328.7 441.44 L329.2 441.44 L329.7 441.44 L330.2 441.44 L330.7 441.44 L331.2 441.44 L331.7 441.43 L332.2 441.43 L332.7 441.43 L333.2 441.43 L333.7 441.43 L334.2 441.42 L334.7 441.42 L335.2 441.42 L335.7 441.42 L336.2 441.41 L336.7 441.41 L337.2 441.41 L337.7 441.41 L338.2 441.40 L338.7 441.40 L339.2 441.40 L339.7 441.40 L340.2 441.39 L340.7 441.39 L341.2 441.39 L341.7 441.38 L342.2 441.38 L342.7 441.38 L343.2 441.37 L343.7 441.37 L344.2 441.37 L344.7 441.36 L345.2 441.36 L345.7 441.35 L346.2 441.35 L346.7 441.35 L347.2 441.34 L347.7 441.34 L348.2 441.33 L348.7 441.33 L349.2 441.32 L349.7 441.32 L350.2 441.31 L350.7 441.31 L351.2 441.30 L351.7 441.29 L352.2 441.29 L352.7 441.28 L353.2 441.28 L353.7 441.27 L354.2 441.26 L354.7 441.26 L355.2 441.25 L355.7 441.24 L356.2 441.23 L356.7 441.23 L357.2 441.22 L357.7 441.21 L358.2 441.20 L358.7 441.19 L359.2 441.18 L359.7 441.17 L360.2 441.16 L360.7 441.15 L361.2 441.14 L361.7 441.13 L362.2 441.12 L362.7 441.11 L363.2 441.10 L363.7 441.09 L364.2 441.07 L364.7 441.06 L365.2 441.05 L365.7 441.04 L366.2 441.02 L366.7 441.01 L367.2 440.99 L367.7 440.98 L368.2 440.96 L368.7 440.95 L369.2 440.93 L369.7 440.91 L370.2 440.89 L370.7 440.88 L371.2 440.86 L371.7 440.84 L372.2 440.82 L372.7 440.80 L373.2 440.78 L373.7 440.75 L374.2 440.73 L374.7 440.71 L375.2 440.68 L375.7 440.66 L376.2 440.63 L376.7 440.61 L377.2 440.58 L377.7 440.55 L378.2 440.52 L378.7 440.49 L379.2 440.46 L379.7 440.43 L380.2 440.40 L380.7 440.36 L381.2 440.33 L381.7 440.29 L382.2 440.26 L382.7 440.22 L383.2 440.18 L383.7 440.14 L384.2 440.09 L384.7 440.05 L385.2 440.01 L385.7 439.96 L386.2 439.91 L386.7 439.86 L387.2 439.81 L387.7 439.76 L388.2 439.71 L388.7 439.65 L389.2 439.59 L389.7 439.53 L390.2 439.47 L390.7 439.41 L391.2 439.34 L391.7 439.27 L392.2 439.20 L392.7 439.13 L393.2 439.06 L393.7 438.98 L394.2 438.90 L394.7 438.82 L395.2 438.73 L395.7 438.64 L396.2 438.55 L396.7 438.46 L397.2 438.36 L397.7 438.26 L398.2 438.16 L398.7 438.05 L399.2 437.94 L399.7 437.83 L400.2 437.71 L400.7 437.59 L401.2 437.46 L401.7 437.33 L402.2 437.20 L402.7 437.06 L403.2 436.91 L403.7 436.77 L404.2 436.61 L404.7 436.45 L405.2 436.29 L405.7 436.12 L406.2 435.94 L406.7 435.76 L407.2 435.57 L407.7 435.38 L408.2 435.18 L408.7 434.97 L409.2 434.76 L409.7 434.53 L410.2 434.30 L410.7 434.05 L411.2 433.80 L411.7 433.54 L412.2 433.27 L412.7 432.99 L413.2 432.69 L413.7 432.39 L414.2 432.07 L414.7 431.74 L415.2 431.39 L415.7 431.03 L416.2 430.66 L416.7 430.27 L417.2 429.86 L417.7 429.44 L418.2 429.00 L418.7 428.54 L419.2 428.06 L419.7 427.56 L420.2 427.03 L420.7 426.49 L421.2 425.92 L421.7 425.33 L422.2 424.70 L422.7 424.06 L423.2 423.38 L423.7 422.67 L424.2 421.93 L424.7 421.16 L425.2 420.34 L425.7 419.50 L426.2 418.61 L426.7 417.68 L427.2 416.71 L427.7 415.68 L428.2 414.62 L428.7 413.50 L429.2 412.32 L429.7 411.09 L430.2 409.79 L430.7 408.44 L431.2 407.01 L431.7 405.52 L432.2 403.95 L432.7 402.30 L433.2 400.56 L433.7 398.75 L434.2 396.82 L434.7 394.81 L435.2 392.69 L435.7 390.46 L436.2 388.11 L436.7 385.64 L437.2 383.04 L437.7 380.30 L438.2 377.41 L438.7 374.37 L439.2 371.16 L439.7 367.79 L440.2 364.23 L440.7 360.48 L441.2 356.54 L441.7 352.38 L442.2 347.99 L442.7 343.37 L443.2 338.51 L443.7 333.38 L444.2 328.00 L444.7 322.34 L445.2 316.37 L445.7 310.12 L446.2 303.56 L446.7 296.69 L447.2 289.49 L447.7 281.97 L448.2 274.14 L448.7 265.97 L449.2 257.51 L449.7 248.76 L450.2 239.72 L450.7 230.44 L451.2 220.94 L451.7 211.26 L452.2 201.47 L452.7 191.60 L453.2 181.73 L453.7 171.93 L454.2 162.26 L454.7 152.79 L455.2 143.58 L455.7 134.71 L456.2 126.22 L456.7 118.14 L457.2 110.51 L457.7 103.34 L458.2 96.62 L458.7 87.72 L459.2 77.69 L459.7 69.35 L460.2 62.81 L460.7 58.21 L461.2 55.69 L461.7 55.06 L462.2 56.50 L462.7 60.12 L463.2 65.85 L463.7 73.56 L464.2 83.13 L464.7 94.14 L465.2 103.16 L465.7 113.54 L466.2 125.33 L466.7 138.48 L467.2 152.81 L467.7 168.03 L468.2 183.78 L468.7 199.68 L469.2 215.41 L469.7 230.69 L470.2 245.33 L470.7 259.20 L471.2 272.22 L471.7 284.38 L472.2 295.70 L472.7 306.16 L473.2 315.85 L473.7 324.78 L474.2 333.01 L474.7 340.60 L475.2 347.58 L475.7 354.02 L476.2 359.95 L476.7 365.42 L477.2 370.46 L477.7 375.11 L478.2 379.42 L478.7 383.39 L479.2 387.06 L479.7 390.46 L480.2 393.61 L480.7 396.53 L481.2 399.24 L481.7 401.76 L482.2 404.10 L482.7 406.28 L483.2 408.31 L483.7 410.20 L484.2 411.96 L484.7 413.61 L485.2 415.14 L485.7 416.58 L486.2 417.92 L486.7 419.18 L487.2 420.35 L487.7 421.46 L488.2 422.49 L488.7 423.47 L489.2 424.38 L489.7 425.24 L490.2 426.05 L490.7 426.81 L491.2 427.53 L491.7 428.20 L492.2 428.84 L492.7 429.44 L493.2 430.00 L493.7 430.54 L494.2 431.04 L494.7 431.52 L495.2 431.98 L495.7 432.40 L496.2 432.81 L496.7 433.19 L497.2 433.56 L497.7 433.90 L498.2 434.23 L498.7 434.54 L499.2 434.84 L499.7 435.12 L500.2 435.38 L500.7 435.64 L501.2 435.88 L501.7 436.11 L502.2 436.33 L502.7 436.53 L503.2 436.73 L503.7 436.92 L504.2 437.10 L504.7 437.27 L505.2 437.44 L505.7 437.59 L506.2 437.74 L506.7 437.89 L507.2 438.02 L507.7 438.15 L508.2 438.28 L508.7 438.40 L509.2 438.51 L509.7 438.62 L510.2 438.72 L510.7 438.82 L511.2 438.92 L511.7 439.01 L512.2 439.10 L512.7 439.19 L513.2 439.27 L513.7 439.35 L514.2 439.42 L514.7 439.49 L515.2 439.56 L515.7 439.63 L516.2 439.70 L516.7 439.76 L517.2 439.82 L517.7 439.88 L518.2 439.93 L518.7 439.99 L519.2 440.04 L519.7 440.09 L520.2 440.14 L520.7 440.18 L521.2 440.23 L521.7 440.27 L522.2 440.31 L522.7 440.35 L523.2 440.39 L523.7 440.43 L524.2 440.46 L524.7 440.50 L525.2 440.53 L525.7 440.57 L526.2 440.60 L526.7 440.63 L527.2 440.66 L527.7 440.68 L528.2 440.71 L528.7 440.74 L529.2 440.76 L529.7 440.79 L530.2 440.81 L530.7 440.83 L531.2 440.85 L531.7 440.87 L532.2 440.89 L532.7 440.91 L533.2 440.93 L533.7 440.95 L534.2 440.97 L534.7 440.99 L535.2 441.00 L535.7 441.02 L536.2 441.03 L536.7 441.05 L537.2 441.06 L537.7 441.08 L538.2 441.09 L538.7 441.10 L539.2 441.12 L539.7 441.13 L540.2 441.14 L540.7 441.15 L541.2 441.16 L541.7 441.17 L542.2 441.18 L542.7 441.19 L543.2 441.20 L543.7 441.21 L544.2 441.22 L544.7 441.23 L545.2 441.24 L545.7 441.25 L546.2 441.25 L546.7 441.26 L547.2 441.27 L547.7 441.28 L548.2 441.28 L548.7 441.29 L549.2 441.30 L549.7 441.30 L550.2 441.31 L550.7 441.31 L551.2 441.32 L551.7 441.32 L552.2 441.33 L552.7 441.33 L553.2 441.34 L553.7 441.34 L554.2 441.35 L554.7 441.35 L555.2 441.36 L555.7 441.36 L556.2 441.37 L556.7 441.37 L557.2 441.37 L557.7 441.38 L558.2 441.38 L558.7 441.39 L559.2 441.39 L559.7 441.39 L560.2 441.40 L560.7 441.40 L561.2 441.40 L561.7 441.40 L562.2 441.41 L562.7 441.41 L563.2 441.41 L563.7 441.41 L564.2 441.42 L564.7 441.42 L565.2 441.42 L565.7 441.42 L566.2 441.43 L566.7 441.43 L567.2 441.43 L567.7 441.43 L568.2 441.43 L568.7 441.44 L569.2 441.44 L569.7 441.44 L570.2 441.44 L570.7 441.44 L571.2 441.45 L571.7 441.45 L572.2 441.45 L572.7 441.45 L573.2 441.45 L573.7 441.45 L574.2 441.45 L574.7 441.46 L575.2 441.46 L575.7 441.46 L576.2 441.46 L576.7 441.46 L577.2 441.46 L577.7 441.50 L578.2 441.50 L578.7 441.50 L579.2 441.50 L579.7 441.50 L580.2 441.50 L580.7 441.50 L581.2 441.50 L581.7 441.50 L582.2 441.50 L582.7 441.50 L583.2 441.50 L583.7 441.50 L584.2 441.50 L584.7 441.50 L585.2 441.50 L585.7 441.50 L586.2 441.50 L586.7 441.50 L587.2 441.50 L587.7 441.50 L588.2 441.50 L588.7 441.50 L589.2 441.50 L589.7 441.50 L590.2 441.50 L590.7 441.50 L591.2 441.50 L591.7 441.50 L592.2 441.50 L592.7 441.50 L593.2 441.50 L593.7 441.50 L594.2 441.50 L594.7 441.50 L595.2 441.50 L595.7 441.50 L596.2 441.50 L596.7 441.50 L597.2 441.50 L597.7 441.50 L598.2 441.50 L598.7 441.50 L599.2 441.50 L599.7 441.50 L600.2 441.50 L600.7 441.50 L601.2 441.50 L601.7 441.50 L602.2 441.50 L602.7 441.50 L603.2 441.50 L603.7 441.50 L604.2 441.50 L604.7 441.50 L605.2 441.50 L605.7 441.50 L606.2 441.50 L606.7 441.50 L607.2 441.50 L607.7 441.50 L608.2 441.50 L608.7 441.50 L609.2 441.50 L609.7 441.50 L610.2 441.50 L610.7 441.50 L611.2 441.50 L611.7 441.50 L612.2 441.50 L612.7 441.50 L613.2 441.50 L613.7 441.50 L614.2 441.50 L614.7 441.50 L615.2 441.50 L615.7 441.50 L616.2 441.50 L616.7 441.50 L617.2 441.50 L617.7 441.50 L618.2 441.50 L618.7 441.50 L619.2 441.50 L619.7 441.50 L620.2 441.50 L620.7 441.50 L621.2 441.50 L621.7 441.50 L622.2 441.50 L622.7 441.50 L623.2 441.50 L623.7 441.50 L624.2 441.50 L624.7 441.50 L625.2 441.50 L625.7 441.50 L626.2 441.50 L626.7 441.50 L627.2 441.50 L627.7 441.50 L628.2 441.50 L628.7 441.50 L629.2 441.50 L629.7 441.50 L630.2 441.50 L630.7 441.50 L631.2 441.50 L631.7 441.50 L632.2 441.50 L632.7 441.50 L633.2 441.50 L633.7 441.50 L634.2 441.50 L634.7 441.50 L635.2 441.50 L635.7 441.50 L636.2 441.50 L636.7 441.50 L637.2 441.50 L637.7 441.50 L638.2 441.50 L638.7 441.50 L639.2 441.50 L639.7 441.50 L640.2 441.50 L640.7 441.50 L641.2 441.50 L641.7 441.50 L642.2 441.50 L642.7 441.50 L643.2 441.50 L643.7 441.50 L644.2 441.50 L644.7 441.50 L645.2 441.50 L645.7 441.50 L646.2 441.50 L646.7 441.50 L647.2 441.50 L647.7 441.50 L648.2 441.50 L648.7 441.50 L649.2 441.50 L649.7 441.50 L650.2 441.50 L650.7 441.50 L651.2 441.50 L651.7 441.50 L652.2 441.50 L652.7 441.50 L653.2 441.50 L653.7 441.50 L654.2 441.50 L654.7 441.50 L655.2 441.50 L655.7 441.50 L656.2 441.50 L656.7 441.50 L657.2 441.50 L657.7 441.50 L658.2 441.50 L658.7 441.50 L659.2 441.50 L659.7 441.50 L660.2 441.50 L660.7 441.50 L661.2 441.50 L661.7 441.50 L662.2 441.50 L662.7 441.50 L663.2 441.50 L663.7 441.50 L664.2 441.50 L664.7 441.50 L665.2 441.50 L665.7 441.50 L666.2 441.50 L666.7 441.50 L667.2 441.50 L667.7 441.50 L668.2 441.50 L668.7 441.50 L669.2 441.50 L669.7 441.50 L670.2 441.50 L670.7 441.50 L671.2 441.50 L671.7 441.50 L672.2 441.50 L672.7 441.50 L673.2 441.50 L673.7 441.50 L674.2 441.50 L674.7 441.50 L675.2 441.50 L675.7 441.50 L676.2 441.50 L676.7 441.50 L677.2 441.50 L677.7 441.50 L678.2 441.50 L678.7 441.50 L679.2 441.50 L679.7 441.50 L680.2 441.50 L680.7 441.50 L681.2 441.50 L681.7 441.50 L682.2 441.50 L682.7 441.50 L683.2 441.50 L683.7 441.50 L684.2 441.50 L684.7 441.50 L685.2 441.50 L685.7 441.50 L686.2 441.50 L686.7 441.50 L687.2 441.50 L687.7 441.50 L688.2 441.50 L688.7 441.50 L689.2 441.50 L689.7 441.50 L690.2 441.50 L690.7 441.50 L691.2 441.50 L691.7 441.50 L692.2 441.50 L692.7 441.50 L693.2 441.50 L693.7 441.50 L694.2 441.50 L694.7 441.50 L695.2 441.50 L695.7 441.50 L696.2 441.50 L696.7 441.50 L697.2 441.50 L697.7 441.50 L698.2 441.50 L698.7 441.50 L699.2 441.50 L699.7 441.50 L700.2 441.50 L700.7 441.50 L701.2 441.50 L701.7 441.50 L702.2 441.50 L702.7 441.50 L703.2 441.50 L703.7 441.50 L704.2 441.50 L704.7 441.50 L705.2 441.50 L705.7 441.50 L706.2 441.50 L706.7 441.50 L707.2 441.50 L707.7 441.50 L708.2 441.50 L708.7 441.50 L709.2 441.50 L709.7 441.50 L710.2 441.50 L710.7 441.50 L711.2 441.50 L711.7 441.50 L712.2 441.50 L712.7 441.50 L713.2 441.50 L713.7 441.50 L714.2 441.50 L714.7 441.50 L715.2 441.50 L715.7 441.50 L716.2 441.50 L716.7 441.50 L717.2 441.50 L717.7 441.50 L718.2 441.50 L718.7 441.50 L719.2 441.50 L719.7 441.50 L720.2 441.50 L720.7 441.50 L721.2 441.50 L721.7 441.50 L722.2 441.50 L722.7 441.50 L723.2 441.50 L723.7 441.50 L724.2 441.50 L724.7 441.50 L725.2 441.50 L725.7 441.50 L726.2 441.50 L726.7 441.50" stroke="#c99a0c" stroke-width="3.5"/>
<path d="M153.7 441.50 L154.2 441.50 L154.7 441.50 L155.2 441.50 L155.7 441.50 L156.2 441.50 L156.7 441.50 L157.2 441.50 L157.7 441.50 L158.2 441.50 L158.7 441.50 L159.2 441.50 L159.7 441.50 L160.2 441.50 L160.7 441.50 L161.2 441.50 L161.7 441.50 L162.2 441.50 L162.7 441.50 L163.2 441.50 L163.7 441.50 L164.2 441.50 L164.7 441.50 L165.2 441.50 L165.7 441.50 L166.2 441.50 L166.7 441.50 L167.2 441.50 L167.7 441.50 L168.2 441.50 L168.7 441.50 L169.2 441.50 L169.7 441.50 L170.2 441.50 L170.7 441.50 L171.2 441.50 L171.7 441.50 L172.2 441.50 L172.7 441.50 L173.2 441.50 L173.7 441.50 L174.2 441.50 L174.7 441.50 L175.2 441.50 L175.7 441.50 L176.2 441.50 L176.7 441.50 L177.2 441.50 L177.7 441.50 L178.2 441.50 L178.7 441.50 L179.2 441.50 L179.7 441.50 L180.2 441.50 L180.7 441.50 L181.2 441.50 L181.7 441.50 L182.2 441.50 L182.7 441.50 L183.2 441.50 L183.7 441.50 L184.2 441.50 L184.7 441.50 L185.2 441.50 L185.7 441.50 L186.2 441.50 L186.7 441.50 L187.2 441.50 L187.7 441.50 L188.2 441.50 L188.7 441.50 L189.2 441.50 L189.7 441.50 L190.2 441.50 L190.7 441.50 L191.2 441.50 L191.7 441.50 L192.2 441.50 L192.7 441.50 L193.2 441.50 L193.7 441.50 L194.2 441.50 L194.7 441.50 L195.2 441.50 L195.7 441.50 L196.2 441.50 L196.7 441.50 L197.2 441.50 L197.7 441.50 L198.2 441.50 L198.7 441.50 L199.2 441.50 L199.7 441.50 L200.2 441.50 L200.7 441.50 L201.2 441.50 L201.7 441.50 L202.2 441.50 L202.7 441.50 L203.2 441.50 L203.7 441.50 L204.2 441.50 L204.7 441.50 L205.2 441.50 L205.7 441.50 L206.2 441.50 L206.7 441.50 L207.2 441.50 L207.7 441.50 L208.2 441.50 L208.7 441.50 L209.2 441.50 L209.7 441.50 L210.2 441.50 L210.7 441.50 L211.2 441.50 L211.7 441.50 L212.2 441.50 L212.7 441.50 L213.2 441.50 L213.7 441.50 L214.2 441.50 L214.7 441.50 L215.2 441.50 L215.7 441.50 L216.2 441.50 L216.7 441.50 L217.2 441.50 L217.7 441.50 L218.2 441.50 L218.7 441.50 L219.2 441.50 L219.7 441.50 L220.2 441.50 L220.7 441.50 L221.2 441.50 L221.7 441.50 L222.2 441.50 L222.7 441.50 L223.2 441.50 L223.7 441.50 L224.2 441.50 L224.7 441.50 L225.2 441.50 L225.7 441.50 L226.2 441.50 L226.7 441.50 L227.2 441.50 L227.7 441.50 L228.2 441.50 L228.7 441.50 L229.2 441.50 L229.7 441.50 L230.2 441.50 L230.7 441.50 L231.2 441.50 L231.7 441.50 L232.2 441.50 L232.7 441.50 L233.2 441.50 L233.7 441.50 L234.2 441.50 L234.7 441.50 L235.2 441.50 L235.7 441.50 L236.2 441.50 L236.7 441.50 L237.2 441.50 L237.7 441.50 L238.2 441.50 L238.7 441.50 L239.2 441.50 L239.7 441.50 L240.2 441.50 L240.7 441.50 L241.2 441.50 L241.7 441.50 L242.2 441.50 L242.7 441.50 L243.2 441.50 L243.7 441.50 L244.2 441.50 L244.7 441.50 L245.2 441.50 L245.7 441.50 L246.2 441.50 L246.7 441.50 L247.2 441.50 L247.7 441.50 L248.2 441.50 L248.7 441.50 L249.2 441.50 L249.7 441.50 L250.2 441.50 L250.7 441.50 L251.2 441.50 L251.7 441.50 L252.2 441.50 L252.7 441.50 L253.2 441.50 L253.7 441.50 L254.2 441.50 L254.7 441.50 L255.2 441.50 L255.7 441.50 L256.2 441.50 L256.7 441.50 L257.2 441.50 L257.7 441.50 L258.2 441.50 L258.7 441.50 L259.2 441.50 L259.7 441.50 L260.2 441.50 L260.7 441.50 L261.2 441.50 L261.7 441.50 L262.2 441.50 L262.7 441.50 L263.2 441.50 L263.7 441.50 L264.2 441.50 L264.7 441.50 L265.2 441.50 L265.7 441.50 L266.2 441.50 L266.7 441.50 L267.2 441.50 L267.7 441.50 L268.2 441.50 L268.7 441.50 L269.2 441.50 L269.7 441.50 L270.2 441.50 L270.7 441.50 L271.2 441.50 L271.7 441.50 L272.2 441.50 L272.7 441.50 L273.2 441.50 L273.7 441.50 L274.2 441.50 L274.7 441.50 L275.2 441.50 L275.7 441.50 L276.2 441.50 L276.7 441.50 L277.2 441.50 L277.7 441.50 L278.2 441.50 L278.7 441.50 L279.2 441.50 L279.7 441.50 L280.2 441.50 L280.7 441.50 L281.2 441.50 L281.7 441.50 L282.2 441.50 L282.7 441.50 L283.2 441.50 L283.7 441.50 L284.2 441.50 L284.7 441.50 L285.2 441.50 L285.7 441.50 L286.2 441.50 L286.7 441.50 L287.2 441.50 L287.7 441.50 L288.2 441.50 L288.7 441.50 L289.2 441.50 L289.7 441.50 L290.2 441.50 L290.7 441.50 L291.2 441.50 L291.7 441.50 L292.2 441.50 L292.7 441.50 L293.2 441.50 L293.7 441.50 L294.2 441.50 L294.7 441.50 L295.2 441.50 L295.7 441.50 L296.2 441.50 L296.7 441.50 L297.2 441.50 L297.7 441.50 L298.2 441.50 L298.7 441.50 L299.2 441.50 L299.7 441.50 L300.2 441.50 L300.7 441.50 L301.2 441.50 L301.7 441.50 L302.2 441.50 L302.7 441.50 L303.2 441.50 L303.7 441.50 L304.2 441.50 L304.7 441.50 L305.2 441.50 L305.7 441.50 L306.2 441.50 L306.7 441.50 L307.2 441.50 L307.7 441.50 L308.2 441.50 L308.7 441.50 L309.2 441.50 L309.7 441.50 L310.2 441.50 L310.7 441.50 L311.2 441.50 L311.7 441.50 L312.2 441.50 L312.7 441.50 L313.2 441.50 L313.7 441.50 L314.2 441.50 L314.7 441.50 L315.2 441.50 L315.7 441.50 L316.2 441.50 L316.7 441.50 L317.2 441.50 L317.7 441.50 L318.2 441.50 L318.7 441.50 L319.2 441.50 L319.7 441.50 L320.2 441.50 L320.7 441.50 L321.2 441.50 L321.7 441.50 L322.2 441.50 L322.7 441.50 L323.2 441.50 L323.7 441.50 L324.2 441.50 L324.7 441.50 L325.2 441.50 L325.7 441.50 L326.2 441.50 L326.7 441.50 L327.2 441.50 L327.7 441.50 L328.2 441.50 L328.7 441.50 L329.2 441.50 L329.7 441.50 L330.2 441.50 L330.7 441.50 L331.2 441.50 L331.7 441.50 L332.2 441.50 L332.7 441.50 L333.2 441.50 L333.7 441.50 L334.2 441.50 L334.7 441.50 L335.2 441.50 L335.7 441.50 L336.2 441.50 L336.7 441.50 L337.2 441.50 L337.7 441.50 L338.2 441.50 L338.7 441.50 L339.2 441.50 L339.7 441.50 L340.2 441.50 L340.7 441.50 L341.2 441.50 L341.7 441.50 L342.2 441.50 L342.7 441.50 L343.2 441.50 L343.7 441.50 L344.2 441.50 L344.7 441.50 L345.2 441.50 L345.7 441.50 L346.2 441.50 L346.7 441.50 L347.2 441.50 L347.7 441.50 L348.2 441.50 L348.7 441.50 L349.2 441.50 L349.7 441.50 L350.2 441.50 L350.7 441.50 L351.2 441.50 L351.7 441.50 L352.2 441.50 L352.7 441.50 L353.2 441.50 L353.7 441.50 L354.2 441.50 L354.7 441.50 L355.2 441.50 L355.7 441.50 L356.2 441.50 L356.7 441.50 L357.2 441.50 L357.7 441.50 L358.2 441.50 L358.7 441.50 L359.2 441.50 L359.7 441.50 L360.2 441.50 L360.7 441.50 L361.2 441.50 L361.7 441.50 L362.2 441.50 L362.7 441.50 L363.2 441.50 L363.7 441.50 L364.2 441.50 L364.7 441.50 L365.2 441.50 L365.7 441.46 L366.2 441.46 L366.7 441.46 L367.2 441.46 L367.7 441.46 L368.2 441.45 L368.7 441.45 L369.2 441.45 L369.7 441.45 L370.2 441.45 L370.7 441.45 L371.2 441.44 L371.7 441.44 L372.2 441.44 L372.7 441.44 L373.2 441.44 L373.7 441.44 L374.2 441.43 L374.7 441.43 L375.2 441.43 L375.7 441.43 L376.2 441.42 L376.7 441.42 L377.2 441.42 L377.7 441.42 L378.2 441.41 L378.7 441.41 L379.2 441.41 L379.7 441.41 L380.2 441.40 L380.7 441.40 L381.2 441.40 L381.7 441.39 L382.2 441.39 L382.7 441.39 L383.2 441.38 L383.7 441.38 L384.2 441.38 L384.7 441.37 L385.2 441.37 L385.7 441.36 L386.2 441.36 L386.7 441.36 L387.2 441.35 L387.7 441.35 L388.2 441.34 L388.7 441.34 L389.2 441.33 L389.7 441.33 L390.2 441.32 L390.7 441.32 L391.2 441.31 L391.7 441.30 L392.2 441.30 L392.7 441.29 L393.2 441.28 L393.7 441.28 L394.2 441.27 L394.7 441.26 L395.2 441.26 L395.7 441.25 L396.2 441.24 L396.7 441.23 L397.2 441.22 L397.7 441.21 L398.2 441.21 L398.7 441.20 L399.2 441.19 L399.7 441.18 L400.2 441.17 L400.7 441.16 L401.2 441.14 L401.7 441.13 L402.2 441.12 L402.7 441.11 L403.2 441.10 L403.7 441.08 L404.2 441.07 L404.7 441.06 L405.2 441.04 L405.7 441.03 L406.2 441.01 L406.7 441.00 L407.2 440.98 L407.7 440.97 L408.2 440.95 L408.7 440.93 L409.2 440.91 L409.7 440.89 L410.2 440.87 L410.7 440.85 L411.2 440.83 L411.7 440.81 L412.2 440.79 L412.7 440.77 L413.2 440.74 L413.7 440.72 L414.2 440.69 L414.7 440.67 L415.2 440.64 L415.7 440.61 L416.2 440.59 L416.7 440.56 L417.2 440.53 L417.7 440.49 L418.2 440.46 L418.7 440.43 L419.2 440.39 L419.7 440.36 L420.2 440.32 L420.7 440.28 L421.2 440.24 L421.7 440.20 L422.2 440.16 L422.7 440.12 L423.2 440.07 L423.7 440.03 L424.2 439.98 L424.7 439.93 L425.2 439.88 L425.7 439.83 L426.2 439.77 L426.7 439.72 L427.2 439.66 L427.7 439.60 L428.2 439.54 L428.7 439.48 L429.2 439.41 L429.7 439.34 L430.2 439.27 L430.7 439.20 L431.2 439.12 L431.7 439.05 L432.2 438.97 L432.7 438.88 L433.2 438.80 L433.7 438.71 L434.2 438.62 L434.7 438.53 L435.2 438.43 L435.7 438.33 L436.2 438.23 L436.7 438.12 L437.2 438.01 L437.7 437.89 L438.2 437.78 L438.7 437.65 L439.2 437.53 L439.7 437.40 L440.2 437.26 L440.7 437.12 L441.2 436.98 L441.7 436.83 L442.2 436.68 L442.7 436.52 L443.2 436.35 L443.7 436.18 L444.2 436.01 L444.7 435.83 L445.2 435.64 L445.7 435.44 L446.2 435.24 L446.7 435.03 L447.2 434.81 L447.7 434.58 L448.2 434.35 L448.7 434.11 L449.2 433.86 L449.7 433.59 L450.2 433.32 L450.7 433.04 L451.2 432.75 L451.7 432.45 L452.2 432.14 L452.7 431.81 L453.2 431.47 L453.7 431.12 L454.2 430.76 L454.7 430.38 L455.2 429.99 L455.7 429.58 L456.2 429.16 L456.7 428.72 L457.2 428.27 L457.7 427.79 L458.2 427.30 L458.7 426.79 L459.2 426.26 L459.7 425.71 L460.2 425.13 L460.7 424.53 L461.2 423.92 L461.7 423.27 L462.2 422.60 L462.7 421.90 L463.2 421.18 L463.7 420.42 L464.2 419.64 L464.7 418.82 L465.2 417.98 L465.7 417.09 L466.2 416.17 L466.7 415.22 L467.2 414.22 L467.7 413.18 L468.2 412.11 L468.7 410.98 L469.2 409.81 L469.7 408.59 L470.2 407.33 L470.7 406.00 L471.2 404.63 L471.7 403.19 L472.2 401.70 L472.7 400.14 L473.2 398.52 L473.7 396.83 L474.2 395.07 L474.7 393.23 L475.2 391.32 L475.7 389.33 L476.2 387.25 L476.7 385.08 L477.2 382.82 L477.7 380.46 L478.2 378.01 L478.7 375.45 L479.2 372.78 L479.7 370.01 L480.2 367.10 L480.7 364.08 L481.2 360.93 L481.7 357.65 L482.2 354.23 L482.7 350.66 L483.2 346.95 L483.7 343.07 L484.2 339.04 L484.7 334.85 L485.2 330.47 L485.7 325.93 L486.2 321.19 L486.7 316.26 L487.2 311.14 L487.7 305.81 L488.2 300.30 L488.7 294.54 L489.2 288.59 L489.7 282.41 L490.2 276.00 L490.7 269.39 L491.2 262.52 L491.7 255.44 L492.2 248.15 L492.7 240.62 L493.2 232.87 L493.7 224.92 L494.2 216.77 L494.7 208.43 L495.2 199.93 L495.7 191.27 L496.2 182.50 L496.7 173.64 L497.2 164.72 L497.7 155.79 L498.2 146.89 L498.7 138.07 L499.2 129.40 L499.7 120.94 L500.2 112.74 L500.7 104.88 L501.2 97.43 L501.7 89.51 L502.2 81.30 L502.7 74.09 L503.2 67.96 L503.7 62.96 L504.2 59.13 L504.7 56.54 L505.2 55.34 L505.7 55.24 L506.2 56.71 L506.7 60.15 L507.2 65.34 L507.7 72.22 L508.2 80.69 L508.7 90.63 L509.2 101.09 L509.7 112.54 L510.2 125.08 L510.7 138.45 L511.2 152.36 L511.7 166.54 L512.2 180.74 L512.7 194.77 L513.2 208.47 L513.7 221.73 L514.2 234.48 L514.7 246.65 L515.2 258.22 L515.7 269.19 L516.2 279.54 L516.7 289.30 L517.2 298.49 L517.7 307.12 L518.2 315.22 L518.7 322.81 L519.2 329.91 L519.7 336.57 L520.2 342.81 L520.7 348.65 L521.2 354.11 L521.7 359.23 L522.2 364.01 L522.7 368.49 L523.2 372.68 L523.7 376.61 L524.2 380.29 L524.7 383.74 L525.2 386.98 L525.7 390.01 L526.2 392.85 L526.7 395.52 L527.2 398.03 L527.7 400.38 L528.2 402.59 L528.7 404.67 L529.2 406.62 L529.7 408.46 L530.2 410.19 L530.7 411.81 L531.2 413.34 L531.7 414.79 L532.2 416.15 L532.7 417.43 L533.2 418.64 L533.7 419.78 L534.2 420.86 L534.7 421.88 L535.2 422.84 L535.7 423.75 L536.2 424.60 L536.7 425.42 L537.2 426.18 L537.7 426.91 L538.2 427.60 L538.7 428.25 L539.2 428.87 L539.7 429.45 L540.2 430.01 L540.7 430.53 L541.2 431.03 L541.7 431.51 L542.2 431.95 L542.7 432.38 L543.2 432.79 L543.7 433.17 L544.2 433.54 L544.7 433.89 L545.2 434.22 L545.7 434.53 L546.2 434.83 L546.7 435.12 L547.2 435.39 L547.7 435.65 L548.2 435.89 L548.7 436.13 L549.2 436.35 L549.7 436.56 L550.2 436.77 L550.7 436.96 L551.2 437.15 L551.7 437.32 L552.2 437.49 L552.7 437.65 L553.2 437.81 L553.7 437.95 L554.2 438.09 L554.7 438.23 L555.2 438.36 L555.7 438.48 L556.2 438.60 L556.7 438.71 L557.2 438.82 L557.7 438.93 L558.2 439.03 L558.7 439.13 L559.2 439.22 L559.7 439.31 L560.2 439.39 L560.7 439.47 L561.2 439.55 L561.7 439.63 L562.2 439.70 L562.7 439.77 L563.2 439.84 L563.7 439.90 L564.2 439.96 L564.7 440.02 L565.2 440.08 L565.7 440.13 L566.2 440.18 L566.7 440.23 L567.2 440.28 L567.7 440.33 L568.2 440.37 L568.7 440.42 L569.2 440.46 L569.7 440.50 L570.2 440.53 L570.7 440.57 L571.2 440.61 L571.7 440.64 L572.2 440.67 L572.7 440.70 L573.2 440.73 L573.7 440.76 L574.2 440.79 L574.7 440.82 L575.2 440.84 L575.7 440.87 L576.2 440.89 L576.7 440.91 L577.2 440.93 L577.7 440.95 L578.2 440.97 L578.7 440.99 L579.2 441.01 L579.7 441.03 L580.2 441.05 L580.7 441.06 L581.2 441.08 L581.7 441.10 L582.2 441.11 L582.7 441.13 L583.2 441.14 L583.7 441.15 L584.2 441.16 L584.7 441.18 L585.2 441.19 L585.7 441.20 L586.2 441.21 L586.7 441.22 L587.2 441.23 L587.7 441.24 L588.2 441.25 L588.7 441.26 L589.2 441.27 L589.7 441.28 L590.2 441.29 L590.7 441.29 L591.2 441.30 L591.7 441.31 L592.2 441.31 L592.7 441.32 L593.2 441.33 L593.7 441.33 L594.2 441.34 L594.7 441.35 L595.2 441.35 L595.7 441.36 L596.2 441.36 L596.7 441.37 L597.2 441.37 L597.7 441.38 L598.2 441.38 L598.7 441.38 L599.2 441.39 L599.7 441.39 L600.2 441.40 L600.7 441.40 L601.2 441.40 L601.7 441.41 L602.2 441.41 L602.7 441.41 L603.2 441.42 L603.7 441.42 L604.2 441.42 L604.7 441.42 L605.2 441.43 L605.7 441.43 L606.2 441.43 L606.7 441.43 L607.2 441.44 L607.7 441.44 L608.2 441.44 L608.7 441.44 L609.2 441.45 L609.7 441.45 L610.2 441.45 L610.7 441.45 L611.2 441.45 L611.7 441.45 L612.2 441.46 L612.7 441.46 L613.2 441.46 L613.7 441.46 L614.2 441.50 L614.7 441.50 L615.2 441.50 L615.7 441.50 L616.2 441.50 L616.7 441.50 L617.2 441.50 L617.7 441.50 L618.2 441.50 L618.7 441.50 L619.2 441.50 L619.7 441.50 L620.2 441.50 L620.7 441.50 L621.2 441.50 L621.7 441.50 L622.2 441.50 L622.7 441.50 L623.2 441.50 L623.7 441.50 L624.2 441.50 L624.7 441.50 L625.2 441.50 L625.7 441.50 L626.2 441.50 L626.7 441.50 L627.2 441.50 L627.7 441.50 L628.2 441.50 L628.7 441.50 L629.2 441.50 L629.7 441.50 L630.2 441.50 L630.7 441.50 L631.2 441.50 L631.7 441.50 L632.2 441.50 L632.7 441.50 L633.2 441.50 L633.7 441.50 L634.2 441.50 L634.7 441.50 L635.2 441.50 L635.7 441.50 L636.2 441.50 L636.7 441.50 L637.2 441.50 L637.7 441.50 L638.2 441.50 L638.7 441.50 L639.2 441.50 L639.7 441.50 L640.2 441.50 L640.7 441.50 L641.2 441.50 L641.7 441.50 L642.2 441.50 L642.7 441.50 L643.2 441.50 L643.7 441.50 L644.2 441.50 L644.7 441.50 L645.2 441.50 L645.7 441.50 L646.2 441.50 L646.7 441.50 L647.2 441.50 L647.7 441.50 L648.2 441.50 L648.7 441.50 L649.2 441.50 L649.7 441.50 L650.2 441.50 L650.7 441.50 L651.2 441.50 L651.7 441.50 L652.2 441.50 L652.7 441.50 L653.2 441.50 L653.7 441.50 L654.2 441.50 L654.7 441.50 L655.2 441.50 L655.7 441.50 L656.2 441.50 L656.7 441.50 L657.2 441.50 L657.7 441.50 L658.2 441.50 L658.7 441.50 L659.2 441.50 L659.7 441.50 L660.2 441.50 L660.7 441.50 L661.2 441.50 L661.7 441.50 L662.2 441.50 L662.7 441.50 L663.2 441.50 L663.7 441.50 L664.2 441.50 L664.7 441.50 L665.2 441.50 L665.7 441.50 L666.2 441.50 L666.7 441.50 L667.2 441.50 L667.7 441.50 L668.2 441.50 L668.7 441.50 L669.2 441.50 L669.7 441.50 L670.2 441.50 L670.7 441.50 L671.2 441.50 L671.7 441.50 L672.2 441.50 L672.7 441.50 L673.2 441.50 L673.7 441.50 L674.2 441.50 L674.7 441.50 L675.2 441.50 L675.7 441.50 L676.2 441.50 L676.7 441.50 L677.2 441.50 L677.7 441.50 L678.2 441.50 L678.7 441.50 L679.2 441.50 L679.7 441.50 L680.2 441.50 L680.7 441.50 L681.2 441.50 L681.7 441.50 L682.2 441.50 L682.7 441.50 L683.2 441.50 L683.7 441.50 L684.2 441.50 L684.7 441.50 L685.2 441.50 L685.7 441.50 L686.2 441.50 L686.7 441.50 L687.2 441.50 L687.7 441.50 L688.2 441.50 L688.7 441.50 L689.2 441.50 L689.7 441.50 L690.2 441.50 L690.7 441.50 L691.2 441.50 L691.7 441.50 L692.2 441.50 L692.7 441.50 L693.2 441.50 L693.7 441.50 L694.2 441.50 L694.7 441.50 L695.2 441.50 L695.7 441.50 L696.2 441.50 L696.7 441.50 L697.2 441.50 L697.7 441.50 L698.2 441.50 L698.7 441.50 L699.2 441.50 L699.7 441.50 L700.2 441.50 L700.7 441.50 L701.2 441.50 L701.7 441.50 L702.2 441.50 L702.7 441.50 L703.2 441.50 L703.7 441.50 L704.2 441.50 L704.7 441.50 L705.2 441.50 L705.7 441.50 L706.2 441.50 L706.7 441.50 L707.2 441.50 L707.7 441.50 L708.2 441.50 L708.7 441.50 L709.2 441.50 L709.7 441.50 L710.2 441.50 L710.7 441.50 L711.2 441.50 L711.7 441.50 L712.2 441.50 L712.7 441.50 L713.2 441.50 L713.7 441.50 L714.2 441.50 L714.7 441.50 L715.2 441.50 L715.7 441.50 L716.2 441.50 L716.7 441.50 L717.2 441.50 L717.7 441.50 L718.2 441.50 L718.7 441.50 L719.2 441.50 L719.7 441.50 L720.2 441.50 L720.7 441.50 L721.2 441.50 L721.7 441.50 L722.2 441.50 L722.7 441.50 L723.2 441.50 L723.7 441.50 L724.2 441.50 L724.7 441.50 L725.2 441.50 L725.7 441.50 L726.2 441.50 L726.7 441.50" stroke="#f7960d" stroke-width="3.5"/>
<path d="M153.7 441.50 L154.2 441.50 L154.7 441.50 L155.2 441.50 L155.7 441.50 L156.2 441.50 L156.7 441.50 L157.2 441.50 L157.7 441.50 L158.2 441.50 L158.7 441.50 L159.2 441.50 L159.7 441.50 L160.2 441.50 L160.7 441.50 L161.2 441.50 L161.7 441.50 L162.2 441.50 L162.7 441.50 L163.2 441.50 L163.7 441.50 L164.2 441.50 L164.7 441.50 L165.2 441.50 L165.7 441.50 L166.2 441.50 L166.7 441.50 L167.2 441.50 L167.7 441.50 L168.2 441.50 L168.7 441.50 L169.2 441.50 L169.7 441.50 L170.2 441.50 L170.7 441.50 L171.2 441.50 L171.7 441.50 L172.2 441.50 L172.7 441.50 L173.2 441.50 L173.7 441.50 L174.2 441.50 L174.7 441.50 L175.2 441.50 L175.7 441.50 L176.2 441.50 L176.7 441.50 L177.2 441.50 L177.7 441.50 L178.2 441.50 L178.7 441.50 L179.2 441.50 L179.7 441.50 L180.2 441.50 L180.7 441.50 L181.2 441.50 L181.7 441.50 L182.2 441.50 L182.7 441.50 L183.2 441.50 L183.7 441.50 L184.2 441.50 L184.7 441.50 L185.2 441.50 L185.7 441.50 L186.2 441.50 L186.7 441.50 L187.2 441.50 L187.7 441.50 L188.2 441.50 L188.7 441.50 L189.2 441.50 L189.7 441.50 L190.2 441.50 L190.7 441.50 L191.2 441.50 L191.7 441.50 L192.2 441.50 L192.7 441.50 L193.2 441.50 L193.7 441.50 L194.2 441.50 L194.7 441.50 L195.2 441.50 L195.7 441.50 L196.2 441.50 L196.7 441.50 L197.2 441.50 L197.7 441.50 L198.2 441.50 L198.7 441.50 L199.2 441.50 L199.7 441.50 L200.2 441.50 L200.7 441.50 L201.2 441.50 L201.7 441.50 L202.2 441.50 L202.7 441.50 L203.2 441.50 L203.7 441.50 L204.2 441.50 L204.7 441.50 L205.2 441.50 L205.7 441.50 L206.2 441.50 L206.7 441.50 L207.2 441.50 L207.7 441.50 L208.2 441.50 L208.7 441.50 L209.2 441.50 L209.7 441.50 L210.2 441.50 L210.7 441.50 L211.2 441.50 L211.7 441.50 L212.2 441.50 L212.7 441.50 L213.2 441.50 L213.7 441.50 L214.2 441.50 L214.7 441.50 L215.2 441.50 L215.7 441.50 L216.2 441.50 L216.7 441.50 L217.2 441.50 L217.7 441.50 L218.2 441.50 L218.7 441.50 L219.2 441.50 L219.7 441.50 L220.2 441.50 L220.7 441.50 L221.2 441.50 L221.7 441.50 L222.2 441.50 L222.7 441.50 L223.2 441.50 L223.7 441.50 L224.2 441.50 L224.7 441.50 L225.2 441.50 L225.7 441.50 L226.2 441.50 L226.7 441.50 L227.2 441.50 L227.7 441.50 L228.2 441.50 L228.7 441.50 L229.2 441.50 L229.7 441.50 L230.2 441.50 L230.7 441.50 L231.2 441.50 L231.7 441.50 L232.2 441.50 L232.7 441.50 L233.2 441.50 L233.7 441.50 L234.2 441.50 L234.7 441.50 L235.2 441.50 L235.7 441.50 L236.2 441.50 L236.7 441.50 L237.2 441.50 L237.7 441.50 L238.2 441.50 L238.7 441.50 L239.2 441.50 L239.7 441.50 L240.2 441.50 L240.7 441.50 L241.2 441.50 L241.7 441.50 L242.2 441.50 L242.7 441.50 L243.2 441.50 L243.7 441.50 L244.2 441.50 L244.7 441.50 L245.2 441.50 L245.7 441.50 L246.2 441.50 L246.7 441.50 L247.2 441.50 L247.7 441.50 L248.2 441.50 L248.7 441.50 L249.2 441.50 L249.7 441.50 L250.2 441.50 L250.7 441.50 L251.2 441.50 L251.7 441.50 L252.2 441.50 L252.7 441.50 L253.2 441.50 L253.7 441.50 L254.2 441.50 L254.7 441.50 L255.2 441.50 L255.7 441.50 L256.2 441.50 L256.7 441.50 L257.2 441.50 L257.7 441.50 L258.2 441.50 L258.7 441.50 L259.2 441.50 L259.7 441.50 L260.2 441.50 L260.7 441.50 L261.2 441.50 L261.7 441.50 L262.2 441.50 L262.7 441.50 L263.2 441.50 L263.7 441.50 L264.2 441.50 L264.7 441.50 L265.2 441.50 L265.7 441.50 L266.2 441.50 L266.7 441.50 L267.2 441.50 L267.7 441.50 L268.2 441.50 L268.7 441.50 L269.2 441.50 L269.7 441.50 L270.2 441.50 L270.7 441.50 L271.2 441.50 L271.7 441.50 L272.2 441.50 L272.7 441.50 L273.2 441.50 L273.7 441.50 L274.2 441.50 L274.7 441.50 L275.2 441.50 L275.7 441.50 L276.2 441.50 L276.7 441.50 L277.2 441.50 L277.7 441.50 L278.2 441.50 L278.7 441.50 L279.2 441.50 L279.7 441.50 L280.2 441.50 L280.7 441.50 L281.2 441.50 L281.7 441.50 L282.2 441.50 L282.7 441.50 L283.2 441.50 L283.7 441.50 L284.2 441.50 L284.7 441.50 L285.2 441.50 L285.7 441.50 L286.2 441.50 L286.7 441.50 L287.2 441.50 L287.7 441.50 L288.2 441.50 L288.7 441.50 L289.2 441.50 L289.7 441.50 L290.2 441.50 L290.7 441.50 L291.2 441.50 L291.7 441.50 L292.2 441.50 L292.7 441.50 L293.2 441.50 L293.7 441.50 L294.2 441.50 L294.7 441.50 L295.2 441.50 L295.7 441.50 L296.2 441.50 L296.7 441.50 L297.2 441.50 L297.7 441.50 L298.2 441.50 L298.7 441.50 L299.2 441.50 L299.7 441.50 L300.2 441.50 L300.7 441.50 L301.2 441.50 L301.7 441.50 L302.2 441.50 L302.7 441.50 L303.2 441.50 L303.7 441.50 L304.2 441.50 L304.7 441.50 L305.2 441.50 L305.7 441.50 L306.2 441.50 L306.7 441.50 L307.2 441.50 L307.7 441.50 L308.2 441.50 L308.7 441.50 L309.2 441.50 L309.7 441.50 L310.2 441.50 L310.7 441.50 L311.2 441.50 L311.7 441.50 L312.2 441.50 L312.7 441.50 L313.2 441.50 L313.7 441.50 L314.2 441.50 L314.7 441.50 L315.2 441.50 L315.7 441.50 L316.2 441.50 L316.7 441.50 L317.2 441.46 L317.7 441.46 L318.2 441.46 L318.7 441.46 L319.2 441.46 L319.7 441.46 L320.2 441.46 L320.7 441.46 L321.2 441.46 L321.7 441.46 L322.2 441.45 L322.7 441.45 L323.2 441.45 L323.7 441.45 L324.2 441.45 L324.7 441.45 L325.2 441.45 L325.7 441.45 L326.2 441.45 L326.7 441.45 L327.2 441.45 L327.7 441.45 L328.2 441.45 L328.7 441.44 L329.2 441.44 L329.7 441.44 L330.2 441.44 L330.7 441.44 L331.2 441.44 L331.7 441.44 L332.2 441.44 L332.7 441.44 L333.2 441.44 L333.7 441.43 L334.2 441.43 L334.7 441.43 L335.2 441.43 L335.7 441.43 L336.2 441.43 L336.7 441.43 L337.2 441.43 L337.7 441.43 L338.2 441.42 L338.7 441.42 L339.2 441.42 L339.7 441.42 L340.2 441.42 L340.7 441.42 L341.2 441.42 L341.7 441.42 L342.2 441.41 L342.7 441.41 L343.2 441.41 L343.7 441.41 L344.2 441.41 L344.7 441.41 L345.2 441.41 L345.7 441.40 L346.2 441.40 L346.7 441.40 L347.2 441.40 L347.7 441.40 L348.2 441.40 L348.7 441.40 L349.2 441.39 L349.7 441.39 L350.2 441.39 L350.7 441.39 L351.2 441.39 L351.7 441.38 L352.2 441.38 L352.7 441.38 L353.2 441.38 L353.7 441.38 L354.2 441.37 L354.7 441.37 L355.2 441.37 L355.7 441.37 L356.2 441.37 L356.7 441.36 L357.2 441.36 L357.7 441.36 L358.2 441.36 L358.7 441.35 L359.2 441.35 L359.7 441.35 L360.2 441.35 L360.7 441.34 L361.2 441.34 L361.7 441.34 L362.2 441.34 L362.7 441.33 L363.2 441.33 L363.7 441.33 L364.2 441.33 L364.7 441.32 L365.2 441.32 L365.7 441.32 L366.2 441.31 L366.7 441.31 L367.2 441.31 L367.7 441.30 L368.2 441.30 L368.7 441.30 L369.2 441.29 L369.7 441.29 L370.2 441.29 L370.7 441.28 L371.2 441.28 L371.7 441.28 L372.2 441.27 L372.7 441.27 L373.2 441.26 L373.7 441.26 L374.2 441.26 L374.7 441.25 L375.2 441.25 L375.7 441.24 L376.2 441.24 L376.7 441.23 L377.2 441.23 L377.7 441.22 L378.2 441.22 L378.7 441.22 L379.2 441.21 L379.7 441.21 L380.2 441.20 L380.7 441.19 L381.2 441.19 L381.7 441.18 L382.2 441.18 L382.7 441.17 L383.2 441.17 L383.7 441.16 L384.2 441.16 L384.7 441.15 L385.2 441.14 L385.7 441.14 L386.2 441.13 L386.7 441.12 L387.2 441.12 L387.7 441.11 L388.2 441.10 L388.7 441.10 L389.2 441.09 L389.7 441.08 L390.2 441.07 L390.7 441.07 L391.2 441.06 L391.7 441.05 L392.2 441.04 L392.7 441.03 L393.2 441.03 L393.7 441.02 L394.2 441.01 L394.7 441.00 L395.2 440.99 L395.7 440.98 L396.2 440.97 L396.7 440.96 L397.2 440.95 L397.7 440.94 L398.2 440.93 L398.7 440.92 L399.2 440.91 L399.7 440.90 L400.2 440.89 L400.7 440.88 L401.2 440.87 L401.7 440.85 L402.2 440.84 L402.7 440.83 L403.2 440.82 L403.7 440.81 L404.2 440.79 L404.7 440.78 L405.2 440.77 L405.7 440.75 L406.2 440.74 L406.7 440.72 L407.2 440.71 L407.7 440.69 L408.2 440.68 L408.7 440.66 L409.2 440.65 L409.7 440.63 L410.2 440.61 L410.7 440.60 L411.2 440.58 L411.7 440.56 L412.2 440.54 L412.7 440.53 L413.2 440.51 L413.7 440.49 L414.2 440.47 L414.7 440.45 L415.2 440.43 L415.7 440.41 L416.2 440.39 L416.7 440.36 L417.2 440.34 L417.7 440.32 L418.2 440.30 L418.7 440.27 L419.2 440.25 L419.7 440.22 L420.2 440.20 L420.7 440.17 L421.2 440.15 L421.7 440.12 L422.2 440.09 L422.7 440.06 L423.2 440.04 L423.7 440.01 L424.2 439.98 L424.7 439.95 L425.2 439.91 L425.7 439.88 L426.2 439.85 L426.7 439.82 L427.2 439.78 L427.7 439.75 L428.2 439.71 L428.7 439.68 L429.2 439.64 L429.7 439.60 L430.2 439.56 L430.7 439.52 L431.2 439.48 L431.7 439.44 L432.2 439.40 L432.7 439.35 L433.2 439.31 L433.7 439.26 L434.2 439.21 L434.7 439.16 L435.2 439.11 L435.7 439.06 L436.2 439.01 L436.7 438.95 L437.2 438.89 L437.7 438.84 L438.2 438.78 L438.7 438.72 L439.2 438.65 L439.7 438.59 L440.2 438.52 L440.7 438.45 L441.2 438.38 L441.7 438.31 L442.2 438.23 L442.7 438.16 L443.2 438.08 L443.7 437.99 L444.2 437.91 L444.7 437.82 L445.2 437.73 L445.7 437.64 L446.2 437.55 L446.7 437.45 L447.2 437.35 L447.7 437.24 L448.2 437.13 L448.7 437.02 L449.2 436.91 L449.7 436.79 L450.2 436.67 L450.7 436.54 L451.2 436.41 L451.7 436.27 L452.2 436.13 L452.7 435.99 L453.2 435.84 L453.7 435.69 L454.2 435.53 L454.7 435.36 L455.2 435.19 L455.7 435.01 L456.2 434.83 L456.7 434.64 L457.2 434.44 L457.7 434.24 L458.2 434.03 L458.7 433.81 L459.2 433.58 L459.7 433.34 L460.2 433.10 L460.7 432.84 L461.2 432.58 L461.7 432.31 L462.2 432.02 L462.7 431.73 L463.2 431.42 L463.7 431.10 L464.2 430.77 L464.7 430.42 L465.2 430.06 L465.7 429.69 L466.2 429.30 L466.7 428.90 L467.2 428.47 L467.7 428.03 L468.2 427.58 L468.7 427.10 L469.2 426.60 L469.7 426.08 L470.2 425.54 L470.7 424.98 L471.2 424.39 L471.7 423.77 L472.2 423.13 L472.7 422.46 L473.2 421.76 L473.7 421.03 L474.2 420.26 L474.7 419.46 L475.2 418.63 L475.7 417.75 L476.2 416.83 L476.7 415.88 L477.2 414.87 L477.7 413.82 L478.2 412.73 L478.7 411.58 L479.2 410.37 L479.7 409.11 L480.2 407.80 L480.7 406.42 L481.2 404.97 L481.7 403.46 L482.2 401.88 L482.7 400.22 L483.2 398.49 L483.7 396.68 L484.2 394.79 L484.7 392.80 L485.2 390.73 L485.7 388.56 L486.2 386.29 L486.7 383.91 L487.2 381.43 L487.7 378.82 L488.2 376.10 L488.7 373.24 L489.2 370.27 L489.7 367.14 L490.2 363.88 L490.7 360.46 L491.2 356.90 L491.7 353.16 L492.2 349.27 L492.7 345.18 L493.2 340.93 L493.7 336.48 L494.2 331.86 L494.7 327.02 L495.2 321.98 L495.7 316.73 L496.2 311.28 L496.7 305.60 L497.2 299.72 L497.7 293.61 L498.2 287.29 L498.7 280.74 L499.2 273.99 L499.7 267.02 L500.2 259.86 L500.7 252.51 L501.2 244.99 L501.7 237.30 L502.2 229.47 L502.7 221.51 L503.2 213.46 L503.7 205.35 L504.2 197.19 L504.7 189.03 L505.2 180.90 L505.7 172.83 L506.2 164.86 L506.7 157.02 L507.2 149.35 L507.7 141.87 L508.2 134.62 L508.7 127.62 L509.2 120.88 L509.7 114.42 L510.2 108.25 L510.7 102.38 L511.2 96.79 L511.7 89.72 L512.2 80.80 L512.7 73.08 L513.2 66.63 L513.7 61.55 L514.2 57.87 L514.7 55.74 L515.2 54.90 L515.7 55.89 L516.2 58.83 L516.7 63.68 L517.2 70.36 L517.7 78.79 L518.2 88.83 L518.7 98.12 L519.2 106.95 L519.7 116.96 L520.2 128.17 L520.7 140.51 L521.2 153.84 L521.7 167.92 L522.2 182.46 L522.7 197.17 L523.2 211.75 L523.7 226.00 L524.2 239.73 L524.7 252.83 L525.2 265.22 L525.7 276.88 L526.2 287.80 L526.7 297.97 L527.2 307.45 L527.7 316.25 L528.2 324.42 L528.7 332.00 L529.2 339.01 L529.7 345.52 L530.2 351.55 L530.7 357.15 L531.2 362.33 L531.7 367.14 L532.2 371.61 L532.7 375.76 L533.2 379.63 L533.7 383.22 L534.2 386.56 L534.7 389.67 L535.2 392.58 L535.7 395.29 L536.2 397.82 L536.7 400.18 L537.2 402.40 L537.7 404.47 L538.2 406.41 L538.7 408.23 L539.2 409.93 L539.7 411.53 L540.2 413.03 L540.7 414.45 L541.2 415.78 L541.7 417.03 L542.2 418.21 L542.7 419.32 L543.2 420.36 L543.7 421.35 L544.2 422.28 L544.7 423.16 L545.2 424.00 L545.7 424.78 L546.2 425.53 L546.7 426.23 L547.2 426.90 L547.7 427.53 L548.2 428.13 L548.7 428.70 L549.2 429.24 L549.7 429.76 L550.2 430.25 L550.7 430.71 L551.2 431.15 L551.7 431.57 L552.2 431.97 L552.7 432.35 L553.2 432.71 L553.7 433.05 L554.2 433.38 L554.7 433.70 L555.2 433.99 L555.7 434.28 L556.2 434.55 L556.7 434.81 L557.2 435.06 L557.7 435.30 L558.2 435.53 L558.7 435.74 L559.2 435.95 L559.7 436.15 L560.2 436.34 L560.7 436.52 L561.2 436.70 L561.7 436.87 L562.2 437.03 L562.7 437.18 L563.2 437.33 L563.7 437.47 L564.2 437.61 L564.7 437.74 L565.2 437.86 L565.7 437.98 L566.2 438.10 L566.7 438.21 L567.2 438.32 L567.7 438.42 L568.2 438.52 L568.7 438.62 L569.2 438.71 L569.7 438.80 L570.2 438.89 L570.7 438.97 L571.2 439.05 L571.7 439.13 L572.2 439.21 L572.7 439.28 L573.2 439.35 L573.7 439.42 L574.2 439.49 L574.7 439.55 L575.2 439.61 L575.7 439.67 L576.2 439.73 L576.7 439.78 L577.2 439.84 L577.7 439.89 L578.2 439.94 L578.7 439.99 L579.2 440.03 L579.7 440.08 L580.2 440.12 L580.7 440.17 L581.2 440.21 L581.7 440.25 L582.2 440.28 L582.7 440.32 L583.2 440.36 L583.7 440.39 L584.2 440.43 L584.7 440.46 L585.2 440.49 L585.7 440.52 L586.2 440.55 L586.7 440.58 L587.2 440.61 L587.7 440.63 L588.2 440.66 L588.7 440.68 L589.2 440.71 L589.7 440.73 L590.2 440.75 L590.7 440.78 L591.2 440.80 L591.7 440.82 L592.2 440.84 L592.7 440.86 L593.2 440.88 L593.7 440.89 L594.2 440.91 L594.7 440.93 L595.2 440.95 L595.7 440.96 L596.2 440.98 L596.7 440.99 L597.2 441.01 L597.7 441.02 L598.2 441.04 L598.7 441.05 L599.2 441.06 L599.7 441.07 L600.2 441.09 L600.7 441.10 L601.2 441.11 L601.7 441.12 L602.2 441.13 L602.7 441.14 L603.2 441.15 L603.7 441.16 L604.2 441.17 L604.7 441.18 L605.2 441.19 L605.7 441.20 L606.2 441.21 L606.7 441.22 L607.2 441.22 L607.7 441.23 L608.2 441.24 L608.7 441.25 L609.2 441.25 L609.7 441.26 L610.2 441.27 L610.7 441.27 L611.2 441.28 L611.7 441.29 L612.2 441.29 L612.7 441.30 L613.2 441.30 L613.7 441.31 L614.2 441.31 L614.7 441.32 L615.2 441.32 L615.7 441.33 L616.2 441.33 L616.7 441.34 L617.2 441.34 L617.7 441.35 L618.2 441.35 L618.7 441.35 L619.2 441.36 L619.7 441.36 L620.2 441.37 L620.7 441.37 L621.2 441.37 L621.7 441.38 L622.2 441.38 L622.7 441.38 L623.2 441.39 L623.7 441.39 L624.2 441.39 L624.7 441.39 L625.2 441.40 L625.7 441.40 L626.2 441.40 L626.7 441.41 L627.2 441.41 L627.7 441.41 L628.2 441.41 L628.7 441.42 L629.2 441.42 L629.7 441.42 L630.2 441.42 L630.7 441.42 L631.2 441.43 L631.7 441.43 L632.2 441.43 L632.7 441.43 L633.2 441.43 L633.7 441.43 L634.2 441.44 L634.7 441.44 L635.2 441.44 L635.7 441.44 L636.2 441.44 L636.7 441.44 L637.2 441.45 L637.7 441.45 L638.2 441.45 L638.7 441.45 L639.2 441.45 L639.7 441.45 L640.2 441.45 L640.7 441.45 L641.2 441.46 L641.7 441.46 L642.2 441.46 L642.7 441.46 L643.2 441.46 L643.7 441.50 L644.2 441.50 L644.7 441.50 L645.2 441.50 L645.7 441.50 L646.2 441.50 L646.7 441.50 L647.2 441.50 L647.7 441.50 L648.2 441.50 L648.7 441.50 L649.2 441.50 L649.7 441.50 L650.2 441.50 L650.7 441.50 L651.2 441.50 L651.7 441.50 L652.2 441.50 L652.7 441.50 L653.2 441.50 L653.7 441.50 L654.2 441.50 L654.7 441.50 L655.2 441.50 L655.7 441.50 L656.2 441.50 L656.7 441.50 L657.2 441.50 L657.7 441.50 L658.2 441.50 L658.7 441.50 L659.2 441.50 L659.7 441.50 L660.2 441.50 L660.7 441.50 L661.2 441.50 L661.7 441.50 L662.2 441.50 L662.7 441.50 L663.2 441.50 L663.7 441.50 L664.2 441.50 L664.7 441.50 L665.2 441.50 L665.7 441.50 L666.2 441.50 L666.7 441.50 L667.2 441.50 L667.7 441.50 L668.2 441.50 L668.7 441.50 L669.2 441.50 L669.7 441.50 L670.2 441.50 L670.7 441.50 L671.2 441.50 L671.7 441.50 L672.2 441.50 L672.7 441.50 L673.2 441.50 L673.7 441.50 L674.2 441.50 L674.7 441.50 L675.2 441.50 L675.7 441.50 L676.2 441.50 L676.7 441.50 L677.2 441.50 L677.7 441.50 L678.2 441.50 L678.7 441.50 L679.2 441.50 L679.7 441.50 L680.2 441.50 L680.7 441.50 L681.2 441.50 L681.7 441.50 L682.2 441.50 L682.7 441.50 L683.2 441.50 L683.7 441.50 L684.2 441.50 L684.7 441.50 L685.2 441.50 L685.7 441.50 L686.2 441.50 L686.7 441.50 L687.2 441.50 L687.7 441.50 L688.2 441.50 L688.7 441.50 L689.2 441.50 L689.7 441.50 L690.2 441.50 L690.7 441.50 L691.2 441.50 L691.7 441.50 L692.2 441.50 L692.7 441.50 L693.2 441.50 L693.7 441.50 L694.2 441.50 L694.7 441.50 L695.2 441.50 L695.7 441.50 L696.2 441.50 L696.7 441.50 L697.2 441.50 L697.7 441.50 L698.2 441.50 L698.7 441.50 L699.2 441.50 L699.7 441.50 L700.2 441.50 L700.7 441.50 L701.2 441.50 L701.7 441.50 L702.2 441.50 L702.7 441.50 L703.2 441.50 L703.7 441.50 L704.2 441.50 L704.7 441.50 L705.2 441.50 L705.7 441.50 L706.2 441.50 L706.7 441.50 L707.2 441.50 L707.7 441.50 L708.2 441.50 L708.7 441.50 L709.2 441.50 L709.7 441.50 L710.2 441.50 L710.7 441.50 L711.2 441.50 L711.7 441.50 L712.2 441.50 L712.7 441.50 L713.2 441.50 L713.7 441.50 L714.2 441.50 L714.7 441.50 L715.2 441.50 L715.7 441.50 L716.2 441.50 L716.7 441.50 L717.2 441.50 L717.7 441.50 L718.2 441.50 L718.7 441.50 L719.2 441.50 L719.7 441.50 L720.2 441.50 L720.7 441.50 L721.2 441.50 L721.7 441.50 L722.2 441.50 L722.7 441.50 L723.2 441.50 L723.7 441.50 L724.2 441.50 L724.7 441.50 L725.2 441.50 L725.7 441.50 L726.2 441.50 L726.7 441.50" stroke="#bb0a10" stroke-width="3.5"/>
<line x1="153.7" y1="441.20" x2="437" y2="441.20" stroke="#c30a0f" stroke-width="4.2"/>
<line x1="572" y1="441.20" x2="727.0" y2="441.20" stroke="#c30a0f" stroke-width="4.2"/>
</g>
<path d="M153.7 446.8 L153.7 54.89999999999998 L727.0 54.89999999999998 L727.0 443.0" fill="none" stroke="#000" stroke-width="2.2"/>
<text x="154.4" y="465.6" text-anchor="middle" textLength="21" lengthAdjust="spacingAndGlyphs" class="tk">380</text>
<text x="225.9" y="465.6" text-anchor="middle" textLength="21" lengthAdjust="spacingAndGlyphs" class="tk">430</text>
<text x="297.5" y="465.6" text-anchor="middle" textLength="21" lengthAdjust="spacingAndGlyphs" class="tk">480</text>
<text x="369.1" y="465.6" text-anchor="middle" textLength="21" lengthAdjust="spacingAndGlyphs" class="tk">530</text>
<text x="440.7" y="465.6" text-anchor="middle" textLength="21" lengthAdjust="spacingAndGlyphs" class="tk">580</text>
<text x="512.2" y="465.6" text-anchor="middle" textLength="21" lengthAdjust="spacingAndGlyphs" class="tk">630</text>
<text x="583.8" y="465.6" text-anchor="middle" textLength="21" lengthAdjust="spacingAndGlyphs" class="tk">680</text>
<text x="655.4" y="465.6" text-anchor="middle" textLength="21" lengthAdjust="spacingAndGlyphs" class="tk">730</text>
<text x="726.9" y="465.6" text-anchor="middle" textLength="21" lengthAdjust="spacingAndGlyphs" class="tk">780</text>
<text x="135.2" y="445.20" textLength="7" lengthAdjust="spacingAndGlyphs" class="tk">0</text>
<text x="128.2" y="367.88" textLength="14" lengthAdjust="spacingAndGlyphs" class="tk">20</text>
<text x="128.2" y="290.56" textLength="14" lengthAdjust="spacingAndGlyphs" class="tk">40</text>
<text x="128.2" y="213.24" textLength="14" lengthAdjust="spacingAndGlyphs" class="tk">60</text>
<text x="128.2" y="135.92" textLength="14" lengthAdjust="spacingAndGlyphs" class="tk">80</text>
<text x="121.2" y="58.60" textLength="21" lengthAdjust="spacingAndGlyphs" class="tk">100</text>
<text transform="translate(88.2,370.8) rotate(-90)" x="0" y="0" textLength="228.8" lengthAdjust="spacingAndGlyphs" class="yt">Relative Radiant Power (%)</text>
<text x="354" y="505.2" textLength="120" lengthAdjust="spacingAndGlyphs" class="xt">Wavelength (nm)</text>
<rect x="750.2" y="160.0" width="33.8" height="4" fill="#0b1f5c"/>
<text x="785.2" y="167.2" textLength="66.6" lengthAdjust="spacingAndGlyphs" class="lg">Royal Blue</text>
<rect x="750.2" y="190.7" width="33.8" height="4" fill="#0b6cbd"/>
<text x="785.2" y="197.9" textLength="28.3" lengthAdjust="spacingAndGlyphs" class="lg">Blue</text>
<rect x="750.2" y="221.4" width="33.8" height="4" fill="#0ca851"/>
<text x="785.2" y="228.6" textLength="37.7" lengthAdjust="spacingAndGlyphs" class="lg">Green</text>
<rect x="750.2" y="252.1" width="33.8" height="4" fill="#9a6810"/>
<text x="785.2" y="259.3" textLength="64.5" lengthAdjust="spacingAndGlyphs" class="lg">PC Amber</text>
<rect x="750.2" y="282.8" width="33.8" height="4" fill="#c99a0c"/>
<text x="785.2" y="290.0" textLength="43.0" lengthAdjust="spacingAndGlyphs" class="lg">Amber</text>
<rect x="750.2" y="313.5" width="33.8" height="4" fill="#f7960d"/>
<text x="785.2" y="320.7" textLength="74.8" lengthAdjust="spacingAndGlyphs" class="lg">Red-Orange</text>
<rect x="750.2" y="344.2" width="33.8" height="4" fill="#bb0a10"/>
<text x="785.2" y="351.4" textLength="25.3" lengthAdjust="spacingAndGlyphs" class="lg">Red</text>
</svg></body></html>
